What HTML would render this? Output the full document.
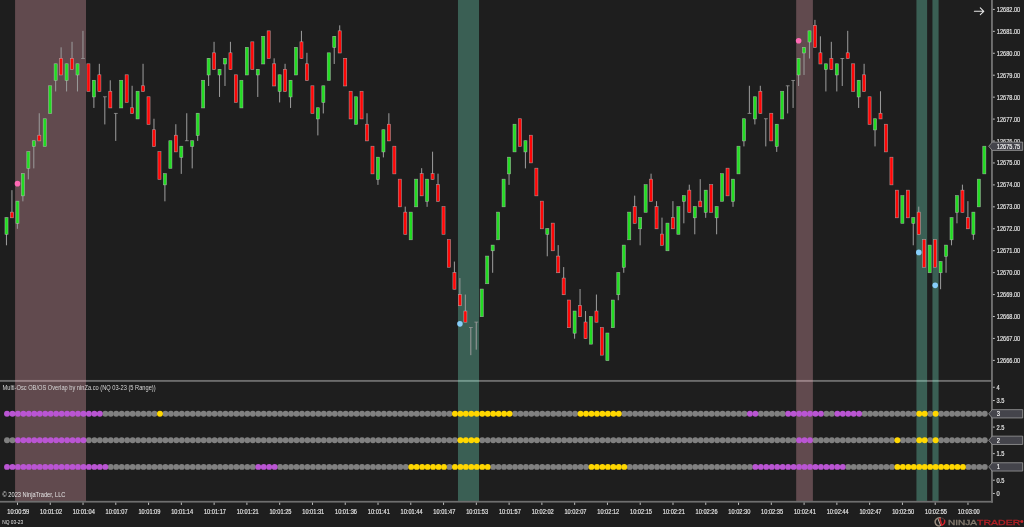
<!DOCTYPE html>
<html lang="en"><head><meta charset="utf-8"><title>NinjaTrader Chart - NQ 03-23 (5 Range)</title>
<style>html,body{margin:0;padding:0;background:#1e1e1e;overflow:hidden}svg{display:block;font-family:"Liberation Sans",sans-serif}</style></head>
<body>
<svg width="1024" height="527" viewBox="0 0 1024 527">
<defs><filter id="soft" x="0" y="0" width="100%" height="100%" filterUnits="userSpaceOnUse"><feGaussianBlur stdDeviation="0.35"/></filter></defs>
<rect width="1024" height="527" fill="#1e1e1e"/>
<rect x="0" y="379.95" width="992" height="1.9" fill="#6c6c6c"/>
<g id="bands">
<rect x="15.08" y="0" width="70.92" height="501" fill="#ffb4c0" fill-opacity="0.3"/>
<rect x="457.97" y="0" width="21.07" height="501" fill="#7ffad4" fill-opacity="0.3"/>
<rect x="796.18" y="0" width="16.70" height="501" fill="#ffb4c0" fill-opacity="0.3"/>
<rect x="916.45" y="0" width="10.66" height="501" fill="#7ffad4" fill-opacity="0.3"/>
<rect x="932.44" y="0" width="6.15" height="501" fill="#7ffad4" fill-opacity="0.3"/>
</g>
<rect x="991" y="0" width="1.9" height="502.6" fill="#6f6f6f"/>
<rect x="0" y="500.85" width="992.9" height="1.75" fill="#6f6f6f"/>
<g id="paxis" fill="#e4e4e4" stroke="#e4e4e4" stroke-width="0.18" font-size="7">
<rect x="992.9" y="8.90" width="1.9" height="1" fill="#c0c0c0" stroke="none"/>
<text x="996.8" y="11.90" textLength="23.4" lengthAdjust="spacingAndGlyphs">12682.00</text>
<rect x="992.9" y="30.84" width="1.9" height="1" fill="#c0c0c0" stroke="none"/>
<text x="996.8" y="33.84" textLength="23.4" lengthAdjust="spacingAndGlyphs">12681.00</text>
<rect x="992.9" y="52.77" width="1.9" height="1" fill="#c0c0c0" stroke="none"/>
<text x="996.8" y="55.77" textLength="23.4" lengthAdjust="spacingAndGlyphs">12680.00</text>
<rect x="992.9" y="74.71" width="1.9" height="1" fill="#c0c0c0" stroke="none"/>
<text x="996.8" y="77.71" textLength="23.4" lengthAdjust="spacingAndGlyphs">12679.00</text>
<rect x="992.9" y="96.64" width="1.9" height="1" fill="#c0c0c0" stroke="none"/>
<text x="996.8" y="99.64" textLength="23.4" lengthAdjust="spacingAndGlyphs">12678.00</text>
<rect x="992.9" y="118.58" width="1.9" height="1" fill="#c0c0c0" stroke="none"/>
<text x="996.8" y="121.58" textLength="23.4" lengthAdjust="spacingAndGlyphs">12677.00</text>
<rect x="992.9" y="140.52" width="1.9" height="1" fill="#c0c0c0" stroke="none"/>
<text x="996.8" y="143.52" textLength="23.4" lengthAdjust="spacingAndGlyphs">12676.00</text>
<rect x="992.9" y="162.45" width="1.9" height="1" fill="#c0c0c0" stroke="none"/>
<text x="996.8" y="165.45" textLength="23.4" lengthAdjust="spacingAndGlyphs">12675.00</text>
<rect x="992.9" y="184.39" width="1.9" height="1" fill="#c0c0c0" stroke="none"/>
<text x="996.8" y="187.39" textLength="23.4" lengthAdjust="spacingAndGlyphs">12674.00</text>
<rect x="992.9" y="206.32" width="1.9" height="1" fill="#c0c0c0" stroke="none"/>
<text x="996.8" y="209.32" textLength="23.4" lengthAdjust="spacingAndGlyphs">12673.00</text>
<rect x="992.9" y="228.26" width="1.9" height="1" fill="#c0c0c0" stroke="none"/>
<text x="996.8" y="231.26" textLength="23.4" lengthAdjust="spacingAndGlyphs">12672.00</text>
<rect x="992.9" y="250.20" width="1.9" height="1" fill="#c0c0c0" stroke="none"/>
<text x="996.8" y="253.20" textLength="23.4" lengthAdjust="spacingAndGlyphs">12671.00</text>
<rect x="992.9" y="272.13" width="1.9" height="1" fill="#c0c0c0" stroke="none"/>
<text x="996.8" y="275.13" textLength="23.4" lengthAdjust="spacingAndGlyphs">12670.00</text>
<rect x="992.9" y="294.07" width="1.9" height="1" fill="#c0c0c0" stroke="none"/>
<text x="996.8" y="297.07" textLength="23.4" lengthAdjust="spacingAndGlyphs">12669.00</text>
<rect x="992.9" y="316.00" width="1.9" height="1" fill="#c0c0c0" stroke="none"/>
<text x="996.8" y="319.00" textLength="23.4" lengthAdjust="spacingAndGlyphs">12668.00</text>
<rect x="992.9" y="337.94" width="1.9" height="1" fill="#c0c0c0" stroke="none"/>
<text x="996.8" y="340.94" textLength="23.4" lengthAdjust="spacingAndGlyphs">12667.00</text>
<rect x="992.9" y="359.88" width="1.9" height="1" fill="#c0c0c0" stroke="none"/>
<text x="996.8" y="362.88" textLength="23.4" lengthAdjust="spacingAndGlyphs">12666.00</text>
</g>
<g id="iaxis" fill="#e4e4e4" stroke="#e4e4e4" stroke-width="0.18" font-size="7">
<rect x="992.9" y="386.75" width="1.9" height="1" fill="#c0c0c0" stroke="none"/>
<text x="996.6" y="389.70" font-size="7" textLength="3.2" lengthAdjust="spacingAndGlyphs">4</text>
<rect x="992.9" y="400.03" width="1.9" height="1" fill="#c0c0c0" stroke="none"/>
<text x="996.6" y="402.98" font-size="7" textLength="7.9" lengthAdjust="spacingAndGlyphs">3.5</text>
<rect x="992.9" y="413.31" width="1.9" height="1" fill="#c0c0c0" stroke="none"/>
<rect x="992.9" y="426.59" width="1.9" height="1" fill="#c0c0c0" stroke="none"/>
<text x="996.6" y="429.54" font-size="7" textLength="7.9" lengthAdjust="spacingAndGlyphs">2.5</text>
<rect x="992.9" y="439.87" width="1.9" height="1" fill="#c0c0c0" stroke="none"/>
<rect x="992.9" y="453.15" width="1.9" height="1" fill="#c0c0c0" stroke="none"/>
<text x="996.6" y="456.10" font-size="7" textLength="7.9" lengthAdjust="spacingAndGlyphs">1.5</text>
<rect x="992.9" y="466.43" width="1.9" height="1" fill="#c0c0c0" stroke="none"/>
<rect x="992.9" y="479.71" width="1.9" height="1" fill="#c0c0c0" stroke="none"/>
<text x="996.6" y="482.66" font-size="7" textLength="7.9" lengthAdjust="spacingAndGlyphs">0.5</text>
<rect x="992.9" y="492.99" width="1.9" height="1" fill="#c0c0c0" stroke="none"/>
<text x="996.6" y="495.94" font-size="7" textLength="3.2" lengthAdjust="spacingAndGlyphs">0</text>
</g>
<g id="candles">
<rect x="5.95" y="217.62" width="1.05" height="27.67" fill="#989898"/>
<rect x="4.95" y="217.62" width="3.1" height="16.68" fill="#22dc22" stroke="#c4c4c4" stroke-opacity="0.7" stroke-width="0.6"/>
<rect x="11.41" y="190.15" width="1.05" height="27.67" fill="#989898"/>
<rect x="10.41" y="212.13" width="3.1" height="5.69" fill="#ff0505" stroke="#c4c4c4" stroke-opacity="0.7" stroke-width="0.6"/>
<rect x="16.88" y="201.14" width="1.05" height="27.67" fill="#989898"/>
<rect x="15.88" y="201.14" width="3.1" height="22.18" fill="#22dc22" stroke="#c4c4c4" stroke-opacity="0.7" stroke-width="0.6"/>
<rect x="22.34" y="173.67" width="1.05" height="27.67" fill="#989898"/>
<rect x="21.34" y="173.67" width="3.1" height="22.18" fill="#22dc22" stroke="#c4c4c4" stroke-opacity="0.7" stroke-width="0.6"/>
<rect x="27.80" y="151.69" width="1.05" height="27.67" fill="#989898"/>
<rect x="26.80" y="151.69" width="3.1" height="16.68" fill="#22dc22" stroke="#c4c4c4" stroke-opacity="0.7" stroke-width="0.6"/>
<rect x="33.26" y="140.71" width="1.05" height="27.67" fill="#989898"/>
<rect x="32.26" y="140.71" width="3.1" height="5.69" fill="#22dc22" stroke="#c4c4c4" stroke-opacity="0.7" stroke-width="0.6"/>
<rect x="38.73" y="113.24" width="1.05" height="27.67" fill="#989898"/>
<rect x="37.73" y="135.21" width="3.1" height="5.69" fill="#ff0505" stroke="#c4c4c4" stroke-opacity="0.7" stroke-width="0.6"/>
<rect x="43.19" y="118.73" width="3.1" height="27.67" fill="#22dc22" stroke="#c4c4c4" stroke-opacity="0.7" stroke-width="0.6"/>
<rect x="48.65" y="85.77" width="3.1" height="27.67" fill="#22dc22" stroke="#c4c4c4" stroke-opacity="0.7" stroke-width="0.6"/>
<rect x="55.11" y="63.79" width="1.05" height="27.67" fill="#989898"/>
<rect x="54.11" y="63.79" width="3.1" height="16.68" fill="#22dc22" stroke="#c4c4c4" stroke-opacity="0.7" stroke-width="0.6"/>
<rect x="60.58" y="47.31" width="1.05" height="27.67" fill="#989898"/>
<rect x="59.58" y="58.30" width="3.1" height="16.68" fill="#ff0505" stroke="#c4c4c4" stroke-opacity="0.7" stroke-width="0.6"/>
<rect x="66.04" y="63.79" width="1.05" height="27.67" fill="#989898"/>
<rect x="65.04" y="63.79" width="3.1" height="16.68" fill="#22dc22" stroke="#c4c4c4" stroke-opacity="0.7" stroke-width="0.6"/>
<rect x="71.50" y="41.81" width="1.05" height="27.67" fill="#989898"/>
<rect x="70.50" y="58.30" width="3.1" height="11.19" fill="#ff0505" stroke="#c4c4c4" stroke-opacity="0.7" stroke-width="0.6"/>
<rect x="76.96" y="63.79" width="1.05" height="27.67" fill="#989898"/>
<rect x="75.96" y="63.79" width="3.1" height="11.19" fill="#22dc22" stroke="#c4c4c4" stroke-opacity="0.7" stroke-width="0.6"/>
<rect x="82.43" y="30.83" width="1.05" height="27.67" fill="#989898"/>
<rect x="81.13" y="58.00" width="3.8" height="0.75" fill="#989898"/>
<rect x="86.89" y="63.79" width="3.1" height="27.67" fill="#ff0505" stroke="#c4c4c4" stroke-opacity="0.7" stroke-width="0.6"/>
<rect x="93.35" y="80.27" width="1.05" height="27.67" fill="#989898"/>
<rect x="92.35" y="80.27" width="3.1" height="16.68" fill="#22dc22" stroke="#c4c4c4" stroke-opacity="0.7" stroke-width="0.6"/>
<rect x="98.81" y="63.79" width="1.05" height="27.67" fill="#989898"/>
<rect x="97.81" y="74.78" width="3.1" height="16.68" fill="#ff0505" stroke="#c4c4c4" stroke-opacity="0.7" stroke-width="0.6"/>
<rect x="104.28" y="96.75" width="1.05" height="27.67" fill="#989898"/>
<rect x="102.98" y="96.45" width="3.8" height="0.75" fill="#989898"/>
<rect x="109.74" y="80.27" width="1.05" height="27.67" fill="#989898"/>
<rect x="108.74" y="91.26" width="3.1" height="16.68" fill="#ff0505" stroke="#c4c4c4" stroke-opacity="0.7" stroke-width="0.6"/>
<rect x="115.20" y="113.24" width="1.05" height="27.67" fill="#989898"/>
<rect x="113.90" y="112.94" width="3.8" height="0.75" fill="#989898"/>
<rect x="119.66" y="80.27" width="3.1" height="27.67" fill="#22dc22" stroke="#c4c4c4" stroke-opacity="0.7" stroke-width="0.6"/>
<rect x="125.13" y="74.78" width="3.1" height="27.67" fill="#ff0505" stroke="#c4c4c4" stroke-opacity="0.7" stroke-width="0.6"/>
<rect x="131.59" y="85.77" width="1.05" height="27.67" fill="#989898"/>
<rect x="130.59" y="107.74" width="3.1" height="5.69" fill="#ff0505" stroke="#c4c4c4" stroke-opacity="0.7" stroke-width="0.6"/>
<rect x="136.05" y="91.26" width="3.1" height="27.67" fill="#22dc22" stroke="#c4c4c4" stroke-opacity="0.7" stroke-width="0.6"/>
<rect x="142.52" y="63.79" width="1.05" height="27.67" fill="#989898"/>
<rect x="141.52" y="85.77" width="3.1" height="5.69" fill="#ff0505" stroke="#c4c4c4" stroke-opacity="0.7" stroke-width="0.6"/>
<rect x="146.98" y="96.75" width="3.1" height="27.67" fill="#ff0505" stroke="#c4c4c4" stroke-opacity="0.7" stroke-width="0.6"/>
<rect x="153.44" y="118.73" width="1.05" height="27.67" fill="#989898"/>
<rect x="152.44" y="129.72" width="3.1" height="16.68" fill="#ff0505" stroke="#c4c4c4" stroke-opacity="0.7" stroke-width="0.6"/>
<rect x="157.90" y="151.69" width="3.1" height="27.67" fill="#ff0505" stroke="#c4c4c4" stroke-opacity="0.7" stroke-width="0.6"/>
<rect x="164.37" y="173.67" width="1.05" height="27.67" fill="#989898"/>
<rect x="163.37" y="173.67" width="3.1" height="11.19" fill="#22dc22" stroke="#c4c4c4" stroke-opacity="0.7" stroke-width="0.6"/>
<rect x="168.83" y="140.71" width="3.1" height="27.67" fill="#22dc22" stroke="#c4c4c4" stroke-opacity="0.7" stroke-width="0.6"/>
<rect x="175.29" y="124.22" width="1.05" height="27.67" fill="#989898"/>
<rect x="174.29" y="135.21" width="3.1" height="16.68" fill="#ff0505" stroke="#c4c4c4" stroke-opacity="0.7" stroke-width="0.6"/>
<rect x="180.75" y="146.20" width="1.05" height="27.67" fill="#989898"/>
<rect x="179.75" y="146.20" width="3.1" height="11.19" fill="#22dc22" stroke="#c4c4c4" stroke-opacity="0.7" stroke-width="0.6"/>
<rect x="186.22" y="113.24" width="1.05" height="27.67" fill="#989898"/>
<rect x="184.92" y="140.41" width="3.8" height="0.75" fill="#989898"/>
<rect x="191.68" y="140.71" width="1.05" height="27.67" fill="#989898"/>
<rect x="190.68" y="140.71" width="3.1" height="5.69" fill="#22dc22" stroke="#c4c4c4" stroke-opacity="0.7" stroke-width="0.6"/>
<rect x="197.14" y="113.24" width="1.05" height="27.67" fill="#989898"/>
<rect x="196.14" y="113.24" width="3.1" height="22.18" fill="#22dc22" stroke="#c4c4c4" stroke-opacity="0.7" stroke-width="0.6"/>
<rect x="201.60" y="80.27" width="3.1" height="27.67" fill="#22dc22" stroke="#c4c4c4" stroke-opacity="0.7" stroke-width="0.6"/>
<rect x="208.07" y="58.30" width="1.05" height="27.67" fill="#989898"/>
<rect x="207.07" y="58.30" width="3.1" height="16.68" fill="#22dc22" stroke="#c4c4c4" stroke-opacity="0.7" stroke-width="0.6"/>
<rect x="213.53" y="41.81" width="1.05" height="27.67" fill="#989898"/>
<rect x="212.53" y="52.80" width="3.1" height="16.68" fill="#ff0505" stroke="#c4c4c4" stroke-opacity="0.7" stroke-width="0.6"/>
<rect x="218.99" y="69.28" width="1.05" height="27.67" fill="#989898"/>
<rect x="217.99" y="69.28" width="3.1" height="5.69" fill="#22dc22" stroke="#c4c4c4" stroke-opacity="0.7" stroke-width="0.6"/>
<rect x="224.45" y="58.30" width="1.05" height="27.67" fill="#989898"/>
<rect x="223.45" y="58.30" width="3.1" height="5.69" fill="#22dc22" stroke="#c4c4c4" stroke-opacity="0.7" stroke-width="0.6"/>
<rect x="229.92" y="41.81" width="1.05" height="27.67" fill="#989898"/>
<rect x="228.92" y="52.80" width="3.1" height="16.68" fill="#ff0505" stroke="#c4c4c4" stroke-opacity="0.7" stroke-width="0.6"/>
<rect x="234.38" y="74.78" width="3.1" height="27.67" fill="#ff0505" stroke="#c4c4c4" stroke-opacity="0.7" stroke-width="0.6"/>
<rect x="239.84" y="80.27" width="3.1" height="27.67" fill="#22dc22" stroke="#c4c4c4" stroke-opacity="0.7" stroke-width="0.6"/>
<rect x="245.30" y="47.31" width="3.1" height="27.67" fill="#22dc22" stroke="#c4c4c4" stroke-opacity="0.7" stroke-width="0.6"/>
<rect x="250.77" y="41.81" width="3.1" height="27.67" fill="#ff0505" stroke="#c4c4c4" stroke-opacity="0.7" stroke-width="0.6"/>
<rect x="257.23" y="69.28" width="1.05" height="27.67" fill="#989898"/>
<rect x="256.23" y="69.28" width="3.1" height="5.69" fill="#22dc22" stroke="#c4c4c4" stroke-opacity="0.7" stroke-width="0.6"/>
<rect x="261.69" y="36.32" width="3.1" height="27.67" fill="#22dc22" stroke="#c4c4c4" stroke-opacity="0.7" stroke-width="0.6"/>
<rect x="267.15" y="30.83" width="3.1" height="27.67" fill="#ff0505" stroke="#c4c4c4" stroke-opacity="0.7" stroke-width="0.6"/>
<rect x="273.62" y="58.30" width="1.05" height="27.67" fill="#989898"/>
<rect x="272.62" y="63.79" width="3.1" height="22.18" fill="#ff0505" stroke="#c4c4c4" stroke-opacity="0.7" stroke-width="0.6"/>
<rect x="279.08" y="74.78" width="1.05" height="27.67" fill="#989898"/>
<rect x="278.08" y="74.78" width="3.1" height="16.68" fill="#22dc22" stroke="#c4c4c4" stroke-opacity="0.7" stroke-width="0.6"/>
<rect x="284.54" y="63.79" width="1.05" height="27.67" fill="#989898"/>
<rect x="283.54" y="69.28" width="3.1" height="22.18" fill="#ff0505" stroke="#c4c4c4" stroke-opacity="0.7" stroke-width="0.6"/>
<rect x="290.01" y="80.27" width="1.05" height="27.67" fill="#989898"/>
<rect x="289.01" y="80.27" width="3.1" height="16.68" fill="#22dc22" stroke="#c4c4c4" stroke-opacity="0.7" stroke-width="0.6"/>
<rect x="294.47" y="47.31" width="3.1" height="27.67" fill="#22dc22" stroke="#c4c4c4" stroke-opacity="0.7" stroke-width="0.6"/>
<rect x="300.93" y="30.83" width="1.05" height="27.67" fill="#989898"/>
<rect x="299.93" y="41.81" width="3.1" height="16.68" fill="#ff0505" stroke="#c4c4c4" stroke-opacity="0.7" stroke-width="0.6"/>
<rect x="306.39" y="52.80" width="1.05" height="27.67" fill="#989898"/>
<rect x="305.39" y="63.79" width="3.1" height="16.68" fill="#ff0505" stroke="#c4c4c4" stroke-opacity="0.7" stroke-width="0.6"/>
<rect x="310.86" y="85.77" width="3.1" height="27.67" fill="#ff0505" stroke="#c4c4c4" stroke-opacity="0.7" stroke-width="0.6"/>
<rect x="317.32" y="107.74" width="1.05" height="27.67" fill="#989898"/>
<rect x="316.32" y="107.74" width="3.1" height="11.19" fill="#22dc22" stroke="#c4c4c4" stroke-opacity="0.7" stroke-width="0.6"/>
<rect x="322.78" y="85.77" width="1.05" height="27.67" fill="#989898"/>
<rect x="321.78" y="85.77" width="3.1" height="16.68" fill="#22dc22" stroke="#c4c4c4" stroke-opacity="0.7" stroke-width="0.6"/>
<rect x="327.24" y="52.80" width="3.1" height="27.67" fill="#22dc22" stroke="#c4c4c4" stroke-opacity="0.7" stroke-width="0.6"/>
<rect x="333.71" y="36.32" width="1.05" height="27.67" fill="#989898"/>
<rect x="332.71" y="36.32" width="3.1" height="11.19" fill="#22dc22" stroke="#c4c4c4" stroke-opacity="0.7" stroke-width="0.6"/>
<rect x="339.17" y="25.33" width="1.05" height="27.67" fill="#989898"/>
<rect x="338.17" y="30.83" width="3.1" height="22.18" fill="#ff0505" stroke="#c4c4c4" stroke-opacity="0.7" stroke-width="0.6"/>
<rect x="343.63" y="58.30" width="3.1" height="27.67" fill="#ff0505" stroke="#c4c4c4" stroke-opacity="0.7" stroke-width="0.6"/>
<rect x="349.09" y="91.26" width="3.1" height="27.67" fill="#ff0505" stroke="#c4c4c4" stroke-opacity="0.7" stroke-width="0.6"/>
<rect x="354.56" y="96.75" width="3.1" height="27.67" fill="#22dc22" stroke="#c4c4c4" stroke-opacity="0.7" stroke-width="0.6"/>
<rect x="360.02" y="91.26" width="3.1" height="27.67" fill="#ff0505" stroke="#c4c4c4" stroke-opacity="0.7" stroke-width="0.6"/>
<rect x="366.48" y="113.24" width="1.05" height="27.67" fill="#989898"/>
<rect x="365.48" y="124.22" width="3.1" height="16.68" fill="#ff0505" stroke="#c4c4c4" stroke-opacity="0.7" stroke-width="0.6"/>
<rect x="370.94" y="146.20" width="3.1" height="27.67" fill="#ff0505" stroke="#c4c4c4" stroke-opacity="0.7" stroke-width="0.6"/>
<rect x="377.41" y="157.19" width="1.05" height="27.67" fill="#989898"/>
<rect x="376.41" y="157.19" width="3.1" height="22.18" fill="#22dc22" stroke="#c4c4c4" stroke-opacity="0.7" stroke-width="0.6"/>
<rect x="382.87" y="129.72" width="1.05" height="27.67" fill="#989898"/>
<rect x="381.87" y="129.72" width="3.1" height="22.18" fill="#22dc22" stroke="#c4c4c4" stroke-opacity="0.7" stroke-width="0.6"/>
<rect x="388.33" y="113.24" width="1.05" height="27.67" fill="#989898"/>
<rect x="387.33" y="124.22" width="3.1" height="16.68" fill="#ff0505" stroke="#c4c4c4" stroke-opacity="0.7" stroke-width="0.6"/>
<rect x="392.79" y="146.20" width="3.1" height="27.67" fill="#ff0505" stroke="#c4c4c4" stroke-opacity="0.7" stroke-width="0.6"/>
<rect x="398.26" y="179.16" width="3.1" height="27.67" fill="#ff0505" stroke="#c4c4c4" stroke-opacity="0.7" stroke-width="0.6"/>
<rect x="404.72" y="206.63" width="1.05" height="27.67" fill="#989898"/>
<rect x="403.72" y="212.13" width="3.1" height="22.18" fill="#ff0505" stroke="#c4c4c4" stroke-opacity="0.7" stroke-width="0.6"/>
<rect x="409.18" y="212.13" width="3.1" height="27.67" fill="#22dc22" stroke="#c4c4c4" stroke-opacity="0.7" stroke-width="0.6"/>
<rect x="414.64" y="179.16" width="3.1" height="27.67" fill="#22dc22" stroke="#c4c4c4" stroke-opacity="0.7" stroke-width="0.6"/>
<rect x="421.11" y="168.18" width="1.05" height="27.67" fill="#989898"/>
<rect x="420.11" y="173.67" width="3.1" height="22.18" fill="#ff0505" stroke="#c4c4c4" stroke-opacity="0.7" stroke-width="0.6"/>
<rect x="426.57" y="179.16" width="1.05" height="27.67" fill="#989898"/>
<rect x="425.57" y="179.16" width="3.1" height="22.18" fill="#22dc22" stroke="#c4c4c4" stroke-opacity="0.7" stroke-width="0.6"/>
<rect x="432.03" y="151.69" width="1.05" height="27.67" fill="#989898"/>
<rect x="431.03" y="173.67" width="3.1" height="5.69" fill="#ff0505" stroke="#c4c4c4" stroke-opacity="0.7" stroke-width="0.6"/>
<rect x="437.50" y="173.67" width="1.05" height="27.67" fill="#989898"/>
<rect x="436.50" y="184.66" width="3.1" height="16.68" fill="#ff0505" stroke="#c4c4c4" stroke-opacity="0.7" stroke-width="0.6"/>
<rect x="441.96" y="206.63" width="3.1" height="27.67" fill="#ff0505" stroke="#c4c4c4" stroke-opacity="0.7" stroke-width="0.6"/>
<rect x="447.42" y="239.60" width="3.1" height="27.67" fill="#ff0505" stroke="#c4c4c4" stroke-opacity="0.7" stroke-width="0.6"/>
<rect x="453.88" y="261.57" width="1.05" height="27.67" fill="#989898"/>
<rect x="452.88" y="272.56" width="3.1" height="16.68" fill="#ff0505" stroke="#c4c4c4" stroke-opacity="0.7" stroke-width="0.6"/>
<rect x="459.35" y="278.06" width="1.05" height="27.67" fill="#989898"/>
<rect x="458.35" y="294.54" width="3.1" height="11.19" fill="#ff0505" stroke="#c4c4c4" stroke-opacity="0.7" stroke-width="0.6"/>
<rect x="464.81" y="294.54" width="1.05" height="27.67" fill="#989898"/>
<rect x="463.81" y="311.02" width="3.1" height="11.19" fill="#ff0505" stroke="#c4c4c4" stroke-opacity="0.7" stroke-width="0.6"/>
<rect x="470.27" y="327.50" width="1.05" height="27.67" fill="#989898"/>
<rect x="468.97" y="327.20" width="3.8" height="0.75" fill="#989898"/>
<rect x="475.73" y="322.01" width="1.05" height="27.67" fill="#989898"/>
<rect x="474.43" y="321.71" width="3.8" height="0.75" fill="#989898"/>
<rect x="480.20" y="289.04" width="3.1" height="27.67" fill="#22dc22" stroke="#c4c4c4" stroke-opacity="0.7" stroke-width="0.6"/>
<rect x="485.66" y="256.08" width="3.1" height="27.67" fill="#22dc22" stroke="#c4c4c4" stroke-opacity="0.7" stroke-width="0.6"/>
<rect x="492.12" y="245.09" width="1.05" height="27.67" fill="#989898"/>
<rect x="491.12" y="245.09" width="3.1" height="5.69" fill="#22dc22" stroke="#c4c4c4" stroke-opacity="0.7" stroke-width="0.6"/>
<rect x="496.58" y="212.13" width="3.1" height="27.67" fill="#22dc22" stroke="#c4c4c4" stroke-opacity="0.7" stroke-width="0.6"/>
<rect x="502.05" y="179.16" width="3.1" height="27.67" fill="#22dc22" stroke="#c4c4c4" stroke-opacity="0.7" stroke-width="0.6"/>
<rect x="508.51" y="157.19" width="1.05" height="27.67" fill="#989898"/>
<rect x="507.51" y="157.19" width="3.1" height="16.68" fill="#22dc22" stroke="#c4c4c4" stroke-opacity="0.7" stroke-width="0.6"/>
<rect x="512.97" y="124.22" width="3.1" height="27.67" fill="#22dc22" stroke="#c4c4c4" stroke-opacity="0.7" stroke-width="0.6"/>
<rect x="518.43" y="118.73" width="3.1" height="27.67" fill="#ff0505" stroke="#c4c4c4" stroke-opacity="0.7" stroke-width="0.6"/>
<rect x="524.90" y="140.71" width="1.05" height="27.67" fill="#989898"/>
<rect x="523.90" y="140.71" width="3.1" height="11.19" fill="#22dc22" stroke="#c4c4c4" stroke-opacity="0.7" stroke-width="0.6"/>
<rect x="529.36" y="135.21" width="3.1" height="27.67" fill="#ff0505" stroke="#c4c4c4" stroke-opacity="0.7" stroke-width="0.6"/>
<rect x="534.82" y="168.18" width="3.1" height="27.67" fill="#ff0505" stroke="#c4c4c4" stroke-opacity="0.7" stroke-width="0.6"/>
<rect x="540.28" y="201.14" width="3.1" height="27.67" fill="#ff0505" stroke="#c4c4c4" stroke-opacity="0.7" stroke-width="0.6"/>
<rect x="546.75" y="228.61" width="1.05" height="27.67" fill="#989898"/>
<rect x="545.75" y="228.61" width="3.1" height="5.69" fill="#22dc22" stroke="#c4c4c4" stroke-opacity="0.7" stroke-width="0.6"/>
<rect x="551.21" y="223.12" width="3.1" height="27.67" fill="#ff0505" stroke="#c4c4c4" stroke-opacity="0.7" stroke-width="0.6"/>
<rect x="557.67" y="245.09" width="1.05" height="27.67" fill="#989898"/>
<rect x="556.67" y="256.08" width="3.1" height="16.68" fill="#ff0505" stroke="#c4c4c4" stroke-opacity="0.7" stroke-width="0.6"/>
<rect x="563.14" y="267.07" width="1.05" height="27.67" fill="#989898"/>
<rect x="562.14" y="278.06" width="3.1" height="16.68" fill="#ff0505" stroke="#c4c4c4" stroke-opacity="0.7" stroke-width="0.6"/>
<rect x="567.60" y="300.03" width="3.1" height="27.67" fill="#ff0505" stroke="#c4c4c4" stroke-opacity="0.7" stroke-width="0.6"/>
<rect x="574.06" y="311.02" width="1.05" height="27.67" fill="#989898"/>
<rect x="573.06" y="311.02" width="3.1" height="22.18" fill="#22dc22" stroke="#c4c4c4" stroke-opacity="0.7" stroke-width="0.6"/>
<rect x="579.52" y="289.04" width="1.05" height="27.67" fill="#989898"/>
<rect x="578.52" y="305.53" width="3.1" height="11.19" fill="#ff0505" stroke="#c4c4c4" stroke-opacity="0.7" stroke-width="0.6"/>
<rect x="584.99" y="311.02" width="1.05" height="27.67" fill="#989898"/>
<rect x="583.99" y="322.01" width="3.1" height="16.68" fill="#ff0505" stroke="#c4c4c4" stroke-opacity="0.7" stroke-width="0.6"/>
<rect x="589.45" y="316.51" width="3.1" height="27.67" fill="#22dc22" stroke="#c4c4c4" stroke-opacity="0.7" stroke-width="0.6"/>
<rect x="595.91" y="294.54" width="1.05" height="27.67" fill="#989898"/>
<rect x="594.91" y="311.02" width="3.1" height="11.19" fill="#ff0505" stroke="#c4c4c4" stroke-opacity="0.7" stroke-width="0.6"/>
<rect x="600.37" y="327.50" width="3.1" height="27.67" fill="#ff0505" stroke="#c4c4c4" stroke-opacity="0.7" stroke-width="0.6"/>
<rect x="605.84" y="333.00" width="3.1" height="27.67" fill="#22dc22" stroke="#c4c4c4" stroke-opacity="0.7" stroke-width="0.6"/>
<rect x="611.30" y="300.03" width="3.1" height="27.67" fill="#22dc22" stroke="#c4c4c4" stroke-opacity="0.7" stroke-width="0.6"/>
<rect x="617.76" y="272.56" width="1.05" height="27.67" fill="#989898"/>
<rect x="616.76" y="272.56" width="3.1" height="22.18" fill="#22dc22" stroke="#c4c4c4" stroke-opacity="0.7" stroke-width="0.6"/>
<rect x="623.22" y="245.09" width="1.05" height="27.67" fill="#989898"/>
<rect x="622.22" y="245.09" width="3.1" height="22.18" fill="#22dc22" stroke="#c4c4c4" stroke-opacity="0.7" stroke-width="0.6"/>
<rect x="627.69" y="212.13" width="3.1" height="27.67" fill="#22dc22" stroke="#c4c4c4" stroke-opacity="0.7" stroke-width="0.6"/>
<rect x="634.15" y="195.65" width="1.05" height="27.67" fill="#989898"/>
<rect x="633.15" y="206.63" width="3.1" height="16.68" fill="#ff0505" stroke="#c4c4c4" stroke-opacity="0.7" stroke-width="0.6"/>
<rect x="639.61" y="217.62" width="1.05" height="27.67" fill="#989898"/>
<rect x="638.61" y="217.62" width="3.1" height="11.19" fill="#22dc22" stroke="#c4c4c4" stroke-opacity="0.7" stroke-width="0.6"/>
<rect x="644.07" y="184.66" width="3.1" height="27.67" fill="#22dc22" stroke="#c4c4c4" stroke-opacity="0.7" stroke-width="0.6"/>
<rect x="650.54" y="173.67" width="1.05" height="27.67" fill="#989898"/>
<rect x="649.54" y="179.16" width="3.1" height="22.18" fill="#ff0505" stroke="#c4c4c4" stroke-opacity="0.7" stroke-width="0.6"/>
<rect x="656.00" y="201.14" width="1.05" height="27.67" fill="#989898"/>
<rect x="655.00" y="206.63" width="3.1" height="22.18" fill="#ff0505" stroke="#c4c4c4" stroke-opacity="0.7" stroke-width="0.6"/>
<rect x="661.46" y="217.62" width="1.05" height="27.67" fill="#989898"/>
<rect x="660.46" y="234.10" width="3.1" height="11.19" fill="#ff0505" stroke="#c4c4c4" stroke-opacity="0.7" stroke-width="0.6"/>
<rect x="665.92" y="223.12" width="3.1" height="27.67" fill="#22dc22" stroke="#c4c4c4" stroke-opacity="0.7" stroke-width="0.6"/>
<rect x="672.39" y="201.14" width="1.05" height="27.67" fill="#989898"/>
<rect x="671.39" y="217.62" width="3.1" height="11.19" fill="#ff0505" stroke="#c4c4c4" stroke-opacity="0.7" stroke-width="0.6"/>
<rect x="676.85" y="206.63" width="3.1" height="27.67" fill="#22dc22" stroke="#c4c4c4" stroke-opacity="0.7" stroke-width="0.6"/>
<rect x="683.31" y="195.65" width="1.05" height="27.67" fill="#989898"/>
<rect x="682.31" y="195.65" width="3.1" height="5.69" fill="#22dc22" stroke="#c4c4c4" stroke-opacity="0.7" stroke-width="0.6"/>
<rect x="688.77" y="184.66" width="1.05" height="27.67" fill="#989898"/>
<rect x="687.77" y="190.15" width="3.1" height="22.18" fill="#ff0505" stroke="#c4c4c4" stroke-opacity="0.7" stroke-width="0.6"/>
<rect x="694.24" y="206.63" width="1.05" height="27.67" fill="#989898"/>
<rect x="693.24" y="206.63" width="3.1" height="11.19" fill="#22dc22" stroke="#c4c4c4" stroke-opacity="0.7" stroke-width="0.6"/>
<rect x="699.70" y="179.16" width="1.05" height="27.67" fill="#989898"/>
<rect x="698.70" y="201.14" width="3.1" height="5.69" fill="#ff0505" stroke="#c4c4c4" stroke-opacity="0.7" stroke-width="0.6"/>
<rect x="705.16" y="190.15" width="1.05" height="27.67" fill="#989898"/>
<rect x="704.16" y="190.15" width="3.1" height="22.18" fill="#22dc22" stroke="#c4c4c4" stroke-opacity="0.7" stroke-width="0.6"/>
<rect x="709.63" y="184.66" width="3.1" height="27.67" fill="#ff0505" stroke="#c4c4c4" stroke-opacity="0.7" stroke-width="0.6"/>
<rect x="716.09" y="206.63" width="1.05" height="27.67" fill="#989898"/>
<rect x="715.09" y="206.63" width="3.1" height="11.19" fill="#22dc22" stroke="#c4c4c4" stroke-opacity="0.7" stroke-width="0.6"/>
<rect x="720.55" y="173.67" width="3.1" height="27.67" fill="#22dc22" stroke="#c4c4c4" stroke-opacity="0.7" stroke-width="0.6"/>
<rect x="726.01" y="168.18" width="3.1" height="27.67" fill="#ff0505" stroke="#c4c4c4" stroke-opacity="0.7" stroke-width="0.6"/>
<rect x="732.48" y="179.16" width="1.05" height="27.67" fill="#989898"/>
<rect x="731.48" y="179.16" width="3.1" height="22.18" fill="#22dc22" stroke="#c4c4c4" stroke-opacity="0.7" stroke-width="0.6"/>
<rect x="736.94" y="146.20" width="3.1" height="27.67" fill="#22dc22" stroke="#c4c4c4" stroke-opacity="0.7" stroke-width="0.6"/>
<rect x="743.40" y="118.73" width="1.05" height="27.67" fill="#989898"/>
<rect x="742.40" y="118.73" width="3.1" height="22.18" fill="#22dc22" stroke="#c4c4c4" stroke-opacity="0.7" stroke-width="0.6"/>
<rect x="748.86" y="85.77" width="1.05" height="27.67" fill="#989898"/>
<rect x="747.56" y="112.94" width="3.8" height="0.75" fill="#989898"/>
<rect x="754.33" y="96.75" width="1.05" height="27.67" fill="#989898"/>
<rect x="753.33" y="96.75" width="3.1" height="22.18" fill="#22dc22" stroke="#c4c4c4" stroke-opacity="0.7" stroke-width="0.6"/>
<rect x="759.79" y="85.77" width="1.05" height="27.67" fill="#989898"/>
<rect x="758.79" y="91.26" width="3.1" height="22.18" fill="#ff0505" stroke="#c4c4c4" stroke-opacity="0.7" stroke-width="0.6"/>
<rect x="765.25" y="118.73" width="1.05" height="27.67" fill="#989898"/>
<rect x="763.95" y="118.43" width="3.8" height="0.75" fill="#989898"/>
<rect x="769.71" y="113.24" width="3.1" height="27.67" fill="#ff0505" stroke="#c4c4c4" stroke-opacity="0.7" stroke-width="0.6"/>
<rect x="776.18" y="124.22" width="1.05" height="27.67" fill="#989898"/>
<rect x="775.18" y="124.22" width="3.1" height="22.18" fill="#22dc22" stroke="#c4c4c4" stroke-opacity="0.7" stroke-width="0.6"/>
<rect x="780.64" y="91.26" width="3.1" height="27.67" fill="#22dc22" stroke="#c4c4c4" stroke-opacity="0.7" stroke-width="0.6"/>
<rect x="787.10" y="85.77" width="1.05" height="27.67" fill="#989898"/>
<rect x="785.80" y="85.47" width="3.8" height="0.75" fill="#989898"/>
<rect x="792.56" y="80.27" width="1.05" height="27.67" fill="#989898"/>
<rect x="791.26" y="79.97" width="3.8" height="0.75" fill="#989898"/>
<rect x="798.03" y="58.30" width="1.05" height="27.67" fill="#989898"/>
<rect x="797.03" y="58.30" width="3.1" height="16.68" fill="#22dc22" stroke="#c4c4c4" stroke-opacity="0.7" stroke-width="0.6"/>
<rect x="803.49" y="47.31" width="1.05" height="27.67" fill="#989898"/>
<rect x="802.49" y="47.31" width="3.1" height="5.69" fill="#22dc22" stroke="#c4c4c4" stroke-opacity="0.7" stroke-width="0.6"/>
<rect x="808.95" y="30.83" width="1.05" height="27.67" fill="#989898"/>
<rect x="807.95" y="30.83" width="3.1" height="11.19" fill="#22dc22" stroke="#c4c4c4" stroke-opacity="0.7" stroke-width="0.6"/>
<rect x="814.41" y="19.84" width="1.05" height="27.67" fill="#989898"/>
<rect x="813.41" y="25.33" width="3.1" height="22.18" fill="#ff0505" stroke="#c4c4c4" stroke-opacity="0.7" stroke-width="0.6"/>
<rect x="819.88" y="36.32" width="1.05" height="27.67" fill="#989898"/>
<rect x="818.88" y="52.80" width="3.1" height="11.19" fill="#ff0505" stroke="#c4c4c4" stroke-opacity="0.7" stroke-width="0.6"/>
<rect x="825.34" y="63.79" width="1.05" height="27.67" fill="#989898"/>
<rect x="824.34" y="63.79" width="3.1" height="5.69" fill="#22dc22" stroke="#c4c4c4" stroke-opacity="0.7" stroke-width="0.6"/>
<rect x="830.80" y="41.81" width="1.05" height="27.67" fill="#989898"/>
<rect x="829.80" y="58.30" width="3.1" height="11.19" fill="#ff0505" stroke="#c4c4c4" stroke-opacity="0.7" stroke-width="0.6"/>
<rect x="836.27" y="63.79" width="1.05" height="27.67" fill="#989898"/>
<rect x="835.27" y="63.79" width="3.1" height="11.19" fill="#22dc22" stroke="#c4c4c4" stroke-opacity="0.7" stroke-width="0.6"/>
<rect x="841.73" y="58.30" width="1.05" height="27.67" fill="#989898"/>
<rect x="840.43" y="58.00" width="3.8" height="0.75" fill="#989898"/>
<rect x="847.19" y="30.83" width="1.05" height="27.67" fill="#989898"/>
<rect x="846.19" y="52.80" width="3.1" height="5.69" fill="#ff0505" stroke="#c4c4c4" stroke-opacity="0.7" stroke-width="0.6"/>
<rect x="851.65" y="63.79" width="3.1" height="27.67" fill="#ff0505" stroke="#c4c4c4" stroke-opacity="0.7" stroke-width="0.6"/>
<rect x="858.12" y="80.27" width="1.05" height="27.67" fill="#989898"/>
<rect x="857.12" y="80.27" width="3.1" height="16.68" fill="#22dc22" stroke="#c4c4c4" stroke-opacity="0.7" stroke-width="0.6"/>
<rect x="863.58" y="63.79" width="1.05" height="27.67" fill="#989898"/>
<rect x="862.58" y="74.78" width="3.1" height="16.68" fill="#ff0505" stroke="#c4c4c4" stroke-opacity="0.7" stroke-width="0.6"/>
<rect x="868.04" y="96.75" width="3.1" height="27.67" fill="#ff0505" stroke="#c4c4c4" stroke-opacity="0.7" stroke-width="0.6"/>
<rect x="874.50" y="118.73" width="1.05" height="27.67" fill="#989898"/>
<rect x="873.50" y="118.73" width="3.1" height="11.19" fill="#22dc22" stroke="#c4c4c4" stroke-opacity="0.7" stroke-width="0.6"/>
<rect x="879.97" y="91.26" width="1.05" height="27.67" fill="#989898"/>
<rect x="878.97" y="113.24" width="3.1" height="5.69" fill="#ff0505" stroke="#c4c4c4" stroke-opacity="0.7" stroke-width="0.6"/>
<rect x="884.43" y="124.22" width="3.1" height="27.67" fill="#ff0505" stroke="#c4c4c4" stroke-opacity="0.7" stroke-width="0.6"/>
<rect x="889.89" y="157.19" width="3.1" height="27.67" fill="#ff0505" stroke="#c4c4c4" stroke-opacity="0.7" stroke-width="0.6"/>
<rect x="895.35" y="190.15" width="3.1" height="27.67" fill="#ff0505" stroke="#c4c4c4" stroke-opacity="0.7" stroke-width="0.6"/>
<rect x="900.82" y="195.65" width="3.1" height="27.67" fill="#22dc22" stroke="#c4c4c4" stroke-opacity="0.7" stroke-width="0.6"/>
<rect x="906.28" y="190.15" width="3.1" height="27.67" fill="#ff0505" stroke="#c4c4c4" stroke-opacity="0.7" stroke-width="0.6"/>
<rect x="912.74" y="217.62" width="1.05" height="27.67" fill="#989898"/>
<rect x="911.74" y="217.62" width="3.1" height="5.69" fill="#22dc22" stroke="#c4c4c4" stroke-opacity="0.7" stroke-width="0.6"/>
<rect x="918.20" y="206.63" width="1.05" height="27.67" fill="#989898"/>
<rect x="917.20" y="212.13" width="3.1" height="22.18" fill="#ff0505" stroke="#c4c4c4" stroke-opacity="0.7" stroke-width="0.6"/>
<rect x="922.67" y="239.60" width="3.1" height="27.67" fill="#ff0505" stroke="#c4c4c4" stroke-opacity="0.7" stroke-width="0.6"/>
<rect x="928.13" y="245.09" width="3.1" height="27.67" fill="#22dc22" stroke="#c4c4c4" stroke-opacity="0.7" stroke-width="0.6"/>
<rect x="933.59" y="239.60" width="3.1" height="27.67" fill="#ff0505" stroke="#c4c4c4" stroke-opacity="0.7" stroke-width="0.6"/>
<rect x="940.05" y="261.57" width="1.05" height="27.67" fill="#989898"/>
<rect x="939.05" y="261.57" width="3.1" height="11.19" fill="#22dc22" stroke="#c4c4c4" stroke-opacity="0.7" stroke-width="0.6"/>
<rect x="945.52" y="245.09" width="1.05" height="27.67" fill="#989898"/>
<rect x="944.52" y="245.09" width="3.1" height="11.19" fill="#22dc22" stroke="#c4c4c4" stroke-opacity="0.7" stroke-width="0.6"/>
<rect x="950.98" y="217.62" width="1.05" height="27.67" fill="#989898"/>
<rect x="949.98" y="217.62" width="3.1" height="22.18" fill="#22dc22" stroke="#c4c4c4" stroke-opacity="0.7" stroke-width="0.6"/>
<rect x="956.44" y="195.65" width="1.05" height="27.67" fill="#989898"/>
<rect x="955.44" y="195.65" width="3.1" height="16.68" fill="#22dc22" stroke="#c4c4c4" stroke-opacity="0.7" stroke-width="0.6"/>
<rect x="961.90" y="184.66" width="1.05" height="27.67" fill="#989898"/>
<rect x="960.90" y="190.15" width="3.1" height="22.18" fill="#ff0505" stroke="#c4c4c4" stroke-opacity="0.7" stroke-width="0.6"/>
<rect x="967.37" y="201.14" width="1.05" height="27.67" fill="#989898"/>
<rect x="966.37" y="217.62" width="3.1" height="11.19" fill="#ff0505" stroke="#c4c4c4" stroke-opacity="0.7" stroke-width="0.6"/>
<rect x="972.83" y="212.13" width="1.05" height="27.67" fill="#989898"/>
<rect x="971.83" y="212.13" width="3.1" height="22.18" fill="#22dc22" stroke="#c4c4c4" stroke-opacity="0.7" stroke-width="0.6"/>
<rect x="977.29" y="179.16" width="3.1" height="27.67" fill="#22dc22" stroke="#c4c4c4" stroke-opacity="0.7" stroke-width="0.6"/>
<rect x="982.76" y="146.20" width="3.1" height="27.67" fill="#22dc22" stroke="#c4c4c4" stroke-opacity="0.7" stroke-width="0.6"/>
</g>
<g id="signals" filter="url(#soft)">
<circle cx="17.48" cy="183.64" r="2.8" fill="#ff69b4"/>
<circle cx="459.95" cy="323.83" r="2.8" fill="#87cefa"/>
<circle cx="798.63" cy="40.80" r="2.8" fill="#ff69b4"/>
<circle cx="918.80" cy="252.40" r="2.8" fill="#87cefa"/>
<circle cx="935.19" cy="285.37" r="2.8" fill="#87cefa"/>
</g>
<g id="dots" filter="url(#soft)">
<circle cx="105.33" cy="413.8" r="2.95" fill="#808080"/>
<circle cx="110.79" cy="413.8" r="2.95" fill="#808080"/>
<circle cx="116.25" cy="413.8" r="2.95" fill="#808080"/>
<circle cx="121.71" cy="413.8" r="2.95" fill="#808080"/>
<circle cx="127.18" cy="413.8" r="2.95" fill="#808080"/>
<circle cx="132.64" cy="413.8" r="2.95" fill="#808080"/>
<circle cx="138.10" cy="413.8" r="2.95" fill="#808080"/>
<circle cx="143.56" cy="413.8" r="2.95" fill="#808080"/>
<circle cx="149.03" cy="413.8" r="2.95" fill="#808080"/>
<circle cx="154.49" cy="413.8" r="2.95" fill="#808080"/>
<circle cx="165.42" cy="413.8" r="2.95" fill="#808080"/>
<circle cx="170.88" cy="413.8" r="2.95" fill="#808080"/>
<circle cx="176.34" cy="413.8" r="2.95" fill="#808080"/>
<circle cx="181.80" cy="413.8" r="2.95" fill="#808080"/>
<circle cx="187.27" cy="413.8" r="2.95" fill="#808080"/>
<circle cx="192.73" cy="413.8" r="2.95" fill="#808080"/>
<circle cx="198.19" cy="413.8" r="2.95" fill="#808080"/>
<circle cx="203.65" cy="413.8" r="2.95" fill="#808080"/>
<circle cx="209.12" cy="413.8" r="2.95" fill="#808080"/>
<circle cx="214.58" cy="413.8" r="2.95" fill="#808080"/>
<circle cx="220.04" cy="413.8" r="2.95" fill="#808080"/>
<circle cx="225.50" cy="413.8" r="2.95" fill="#808080"/>
<circle cx="230.97" cy="413.8" r="2.95" fill="#808080"/>
<circle cx="236.43" cy="413.8" r="2.95" fill="#808080"/>
<circle cx="241.89" cy="413.8" r="2.95" fill="#808080"/>
<circle cx="247.35" cy="413.8" r="2.95" fill="#808080"/>
<circle cx="252.82" cy="413.8" r="2.95" fill="#808080"/>
<circle cx="258.28" cy="413.8" r="2.95" fill="#808080"/>
<circle cx="263.74" cy="413.8" r="2.95" fill="#808080"/>
<circle cx="269.20" cy="413.8" r="2.95" fill="#808080"/>
<circle cx="274.67" cy="413.8" r="2.95" fill="#808080"/>
<circle cx="280.13" cy="413.8" r="2.95" fill="#808080"/>
<circle cx="285.59" cy="413.8" r="2.95" fill="#808080"/>
<circle cx="291.06" cy="413.8" r="2.95" fill="#808080"/>
<circle cx="296.52" cy="413.8" r="2.95" fill="#808080"/>
<circle cx="301.98" cy="413.8" r="2.95" fill="#808080"/>
<circle cx="307.44" cy="413.8" r="2.95" fill="#808080"/>
<circle cx="312.91" cy="413.8" r="2.95" fill="#808080"/>
<circle cx="318.37" cy="413.8" r="2.95" fill="#808080"/>
<circle cx="323.83" cy="413.8" r="2.95" fill="#808080"/>
<circle cx="329.29" cy="413.8" r="2.95" fill="#808080"/>
<circle cx="334.76" cy="413.8" r="2.95" fill="#808080"/>
<circle cx="340.22" cy="413.8" r="2.95" fill="#808080"/>
<circle cx="345.68" cy="413.8" r="2.95" fill="#808080"/>
<circle cx="351.14" cy="413.8" r="2.95" fill="#808080"/>
<circle cx="356.61" cy="413.8" r="2.95" fill="#808080"/>
<circle cx="362.07" cy="413.8" r="2.95" fill="#808080"/>
<circle cx="367.53" cy="413.8" r="2.95" fill="#808080"/>
<circle cx="372.99" cy="413.8" r="2.95" fill="#808080"/>
<circle cx="378.46" cy="413.8" r="2.95" fill="#808080"/>
<circle cx="383.92" cy="413.8" r="2.95" fill="#808080"/>
<circle cx="389.38" cy="413.8" r="2.95" fill="#808080"/>
<circle cx="394.84" cy="413.8" r="2.95" fill="#808080"/>
<circle cx="400.31" cy="413.8" r="2.95" fill="#808080"/>
<circle cx="405.77" cy="413.8" r="2.95" fill="#808080"/>
<circle cx="411.23" cy="413.8" r="2.95" fill="#808080"/>
<circle cx="416.69" cy="413.8" r="2.95" fill="#808080"/>
<circle cx="422.16" cy="413.8" r="2.95" fill="#808080"/>
<circle cx="427.62" cy="413.8" r="2.95" fill="#808080"/>
<circle cx="433.08" cy="413.8" r="2.95" fill="#808080"/>
<circle cx="438.55" cy="413.8" r="2.95" fill="#808080"/>
<circle cx="444.01" cy="413.8" r="2.95" fill="#808080"/>
<circle cx="449.47" cy="413.8" r="2.95" fill="#808080"/>
<circle cx="515.02" cy="413.8" r="2.95" fill="#808080"/>
<circle cx="520.48" cy="413.8" r="2.95" fill="#808080"/>
<circle cx="525.95" cy="413.8" r="2.95" fill="#808080"/>
<circle cx="531.41" cy="413.8" r="2.95" fill="#808080"/>
<circle cx="536.87" cy="413.8" r="2.95" fill="#808080"/>
<circle cx="542.33" cy="413.8" r="2.95" fill="#808080"/>
<circle cx="547.80" cy="413.8" r="2.95" fill="#808080"/>
<circle cx="553.26" cy="413.8" r="2.95" fill="#808080"/>
<circle cx="558.72" cy="413.8" r="2.95" fill="#808080"/>
<circle cx="564.19" cy="413.8" r="2.95" fill="#808080"/>
<circle cx="569.65" cy="413.8" r="2.95" fill="#808080"/>
<circle cx="575.11" cy="413.8" r="2.95" fill="#808080"/>
<circle cx="624.27" cy="413.8" r="2.95" fill="#808080"/>
<circle cx="629.74" cy="413.8" r="2.95" fill="#808080"/>
<circle cx="635.20" cy="413.8" r="2.95" fill="#808080"/>
<circle cx="640.66" cy="413.8" r="2.95" fill="#808080"/>
<circle cx="646.12" cy="413.8" r="2.95" fill="#808080"/>
<circle cx="651.59" cy="413.8" r="2.95" fill="#808080"/>
<circle cx="657.05" cy="413.8" r="2.95" fill="#808080"/>
<circle cx="662.51" cy="413.8" r="2.95" fill="#808080"/>
<circle cx="667.97" cy="413.8" r="2.95" fill="#808080"/>
<circle cx="673.44" cy="413.8" r="2.95" fill="#808080"/>
<circle cx="678.90" cy="413.8" r="2.95" fill="#808080"/>
<circle cx="684.36" cy="413.8" r="2.95" fill="#808080"/>
<circle cx="689.83" cy="413.8" r="2.95" fill="#808080"/>
<circle cx="695.29" cy="413.8" r="2.95" fill="#808080"/>
<circle cx="700.75" cy="413.8" r="2.95" fill="#808080"/>
<circle cx="706.21" cy="413.8" r="2.95" fill="#808080"/>
<circle cx="711.68" cy="413.8" r="2.95" fill="#808080"/>
<circle cx="717.14" cy="413.8" r="2.95" fill="#808080"/>
<circle cx="722.60" cy="413.8" r="2.95" fill="#808080"/>
<circle cx="728.06" cy="413.8" r="2.95" fill="#808080"/>
<circle cx="733.53" cy="413.8" r="2.95" fill="#808080"/>
<circle cx="738.99" cy="413.8" r="2.95" fill="#808080"/>
<circle cx="744.45" cy="413.8" r="2.95" fill="#808080"/>
<circle cx="760.84" cy="413.8" r="2.95" fill="#808080"/>
<circle cx="766.30" cy="413.8" r="2.95" fill="#808080"/>
<circle cx="771.76" cy="413.8" r="2.95" fill="#808080"/>
<circle cx="777.23" cy="413.8" r="2.95" fill="#808080"/>
<circle cx="782.69" cy="413.8" r="2.95" fill="#808080"/>
<circle cx="826.39" cy="413.8" r="2.95" fill="#808080"/>
<circle cx="831.85" cy="413.8" r="2.95" fill="#808080"/>
<circle cx="864.63" cy="413.8" r="2.95" fill="#808080"/>
<circle cx="870.09" cy="413.8" r="2.95" fill="#808080"/>
<circle cx="875.55" cy="413.8" r="2.95" fill="#808080"/>
<circle cx="881.02" cy="413.8" r="2.95" fill="#808080"/>
<circle cx="886.48" cy="413.8" r="2.95" fill="#808080"/>
<circle cx="891.94" cy="413.8" r="2.95" fill="#808080"/>
<circle cx="897.40" cy="413.8" r="2.95" fill="#808080"/>
<circle cx="902.87" cy="413.8" r="2.95" fill="#808080"/>
<circle cx="908.33" cy="413.8" r="2.95" fill="#808080"/>
<circle cx="913.79" cy="413.8" r="2.95" fill="#808080"/>
<circle cx="930.18" cy="413.8" r="2.95" fill="#808080"/>
<circle cx="941.10" cy="413.8" r="2.95" fill="#808080"/>
<circle cx="946.57" cy="413.8" r="2.95" fill="#808080"/>
<circle cx="952.03" cy="413.8" r="2.95" fill="#808080"/>
<circle cx="957.49" cy="413.8" r="2.95" fill="#808080"/>
<circle cx="962.96" cy="413.8" r="2.95" fill="#808080"/>
<circle cx="968.42" cy="413.8" r="2.95" fill="#808080"/>
<circle cx="973.88" cy="413.8" r="2.95" fill="#808080"/>
<circle cx="979.34" cy="413.8" r="2.95" fill="#808080"/>
<circle cx="984.81" cy="413.8" r="2.95" fill="#808080"/>
<circle cx="7.00" cy="413.8" r="2.95" fill="#ba55d3"/>
<circle cx="12.46" cy="413.8" r="2.95" fill="#ba55d3"/>
<circle cx="17.93" cy="413.8" r="2.95" fill="#ba55d3"/>
<circle cx="23.39" cy="413.8" r="2.95" fill="#ba55d3"/>
<circle cx="28.85" cy="413.8" r="2.95" fill="#ba55d3"/>
<circle cx="34.31" cy="413.8" r="2.95" fill="#ba55d3"/>
<circle cx="39.78" cy="413.8" r="2.95" fill="#ba55d3"/>
<circle cx="45.24" cy="413.8" r="2.95" fill="#ba55d3"/>
<circle cx="50.70" cy="413.8" r="2.95" fill="#ba55d3"/>
<circle cx="56.16" cy="413.8" r="2.95" fill="#ba55d3"/>
<circle cx="61.63" cy="413.8" r="2.95" fill="#ba55d3"/>
<circle cx="67.09" cy="413.8" r="2.95" fill="#ba55d3"/>
<circle cx="72.55" cy="413.8" r="2.95" fill="#ba55d3"/>
<circle cx="78.01" cy="413.8" r="2.95" fill="#ba55d3"/>
<circle cx="83.48" cy="413.8" r="2.95" fill="#ba55d3"/>
<circle cx="88.94" cy="413.8" r="2.95" fill="#ba55d3"/>
<circle cx="94.40" cy="413.8" r="2.95" fill="#ba55d3"/>
<circle cx="99.86" cy="413.8" r="2.95" fill="#ba55d3"/>
<circle cx="159.95" cy="413.8" r="2.95" fill="#ffd700"/>
<circle cx="454.93" cy="413.8" r="2.95" fill="#ffd700"/>
<circle cx="460.40" cy="413.8" r="2.95" fill="#ffd700"/>
<circle cx="465.86" cy="413.8" r="2.95" fill="#ffd700"/>
<circle cx="471.32" cy="413.8" r="2.95" fill="#ffd700"/>
<circle cx="476.78" cy="413.8" r="2.95" fill="#ffd700"/>
<circle cx="482.25" cy="413.8" r="2.95" fill="#ffd700"/>
<circle cx="487.71" cy="413.8" r="2.95" fill="#ffd700"/>
<circle cx="493.17" cy="413.8" r="2.95" fill="#ffd700"/>
<circle cx="498.63" cy="413.8" r="2.95" fill="#ffd700"/>
<circle cx="504.10" cy="413.8" r="2.95" fill="#ffd700"/>
<circle cx="509.56" cy="413.8" r="2.95" fill="#ffd700"/>
<circle cx="580.57" cy="413.8" r="2.95" fill="#ffd700"/>
<circle cx="586.04" cy="413.8" r="2.95" fill="#ffd700"/>
<circle cx="591.50" cy="413.8" r="2.95" fill="#ffd700"/>
<circle cx="596.96" cy="413.8" r="2.95" fill="#ffd700"/>
<circle cx="602.42" cy="413.8" r="2.95" fill="#ffd700"/>
<circle cx="607.89" cy="413.8" r="2.95" fill="#ffd700"/>
<circle cx="613.35" cy="413.8" r="2.95" fill="#ffd700"/>
<circle cx="618.81" cy="413.8" r="2.95" fill="#ffd700"/>
<circle cx="749.91" cy="413.8" r="2.95" fill="#ba55d3"/>
<circle cx="755.38" cy="413.8" r="2.95" fill="#ba55d3"/>
<circle cx="788.15" cy="413.8" r="2.95" fill="#ba55d3"/>
<circle cx="793.61" cy="413.8" r="2.95" fill="#ba55d3"/>
<circle cx="799.08" cy="413.8" r="2.95" fill="#ba55d3"/>
<circle cx="804.54" cy="413.8" r="2.95" fill="#ba55d3"/>
<circle cx="810.00" cy="413.8" r="2.95" fill="#ba55d3"/>
<circle cx="815.46" cy="413.8" r="2.95" fill="#ba55d3"/>
<circle cx="820.93" cy="413.8" r="2.95" fill="#ba55d3"/>
<circle cx="837.32" cy="413.8" r="2.95" fill="#ba55d3"/>
<circle cx="842.78" cy="413.8" r="2.95" fill="#ba55d3"/>
<circle cx="848.24" cy="413.8" r="2.95" fill="#ba55d3"/>
<circle cx="853.70" cy="413.8" r="2.95" fill="#ba55d3"/>
<circle cx="859.17" cy="413.8" r="2.95" fill="#ba55d3"/>
<circle cx="919.25" cy="413.8" r="2.95" fill="#ffd700"/>
<circle cx="924.72" cy="413.8" r="2.95" fill="#ffd700"/>
<circle cx="935.64" cy="413.8" r="2.95" fill="#ffd700"/>
<circle cx="7.00" cy="440.3" r="2.95" fill="#808080"/>
<circle cx="12.46" cy="440.3" r="2.95" fill="#808080"/>
<circle cx="88.94" cy="440.3" r="2.95" fill="#808080"/>
<circle cx="94.40" cy="440.3" r="2.95" fill="#808080"/>
<circle cx="99.86" cy="440.3" r="2.95" fill="#808080"/>
<circle cx="105.33" cy="440.3" r="2.95" fill="#808080"/>
<circle cx="110.79" cy="440.3" r="2.95" fill="#808080"/>
<circle cx="116.25" cy="440.3" r="2.95" fill="#808080"/>
<circle cx="121.71" cy="440.3" r="2.95" fill="#808080"/>
<circle cx="127.18" cy="440.3" r="2.95" fill="#808080"/>
<circle cx="132.64" cy="440.3" r="2.95" fill="#808080"/>
<circle cx="138.10" cy="440.3" r="2.95" fill="#808080"/>
<circle cx="143.56" cy="440.3" r="2.95" fill="#808080"/>
<circle cx="149.03" cy="440.3" r="2.95" fill="#808080"/>
<circle cx="154.49" cy="440.3" r="2.95" fill="#808080"/>
<circle cx="159.95" cy="440.3" r="2.95" fill="#808080"/>
<circle cx="165.42" cy="440.3" r="2.95" fill="#808080"/>
<circle cx="170.88" cy="440.3" r="2.95" fill="#808080"/>
<circle cx="176.34" cy="440.3" r="2.95" fill="#808080"/>
<circle cx="181.80" cy="440.3" r="2.95" fill="#808080"/>
<circle cx="187.27" cy="440.3" r="2.95" fill="#808080"/>
<circle cx="192.73" cy="440.3" r="2.95" fill="#808080"/>
<circle cx="198.19" cy="440.3" r="2.95" fill="#808080"/>
<circle cx="203.65" cy="440.3" r="2.95" fill="#808080"/>
<circle cx="209.12" cy="440.3" r="2.95" fill="#808080"/>
<circle cx="214.58" cy="440.3" r="2.95" fill="#808080"/>
<circle cx="220.04" cy="440.3" r="2.95" fill="#808080"/>
<circle cx="225.50" cy="440.3" r="2.95" fill="#808080"/>
<circle cx="230.97" cy="440.3" r="2.95" fill="#808080"/>
<circle cx="236.43" cy="440.3" r="2.95" fill="#808080"/>
<circle cx="241.89" cy="440.3" r="2.95" fill="#808080"/>
<circle cx="247.35" cy="440.3" r="2.95" fill="#808080"/>
<circle cx="252.82" cy="440.3" r="2.95" fill="#808080"/>
<circle cx="258.28" cy="440.3" r="2.95" fill="#808080"/>
<circle cx="263.74" cy="440.3" r="2.95" fill="#808080"/>
<circle cx="269.20" cy="440.3" r="2.95" fill="#808080"/>
<circle cx="274.67" cy="440.3" r="2.95" fill="#808080"/>
<circle cx="280.13" cy="440.3" r="2.95" fill="#808080"/>
<circle cx="285.59" cy="440.3" r="2.95" fill="#808080"/>
<circle cx="291.06" cy="440.3" r="2.95" fill="#808080"/>
<circle cx="296.52" cy="440.3" r="2.95" fill="#808080"/>
<circle cx="301.98" cy="440.3" r="2.95" fill="#808080"/>
<circle cx="307.44" cy="440.3" r="2.95" fill="#808080"/>
<circle cx="312.91" cy="440.3" r="2.95" fill="#808080"/>
<circle cx="318.37" cy="440.3" r="2.95" fill="#808080"/>
<circle cx="323.83" cy="440.3" r="2.95" fill="#808080"/>
<circle cx="329.29" cy="440.3" r="2.95" fill="#808080"/>
<circle cx="334.76" cy="440.3" r="2.95" fill="#808080"/>
<circle cx="340.22" cy="440.3" r="2.95" fill="#808080"/>
<circle cx="345.68" cy="440.3" r="2.95" fill="#808080"/>
<circle cx="351.14" cy="440.3" r="2.95" fill="#808080"/>
<circle cx="356.61" cy="440.3" r="2.95" fill="#808080"/>
<circle cx="362.07" cy="440.3" r="2.95" fill="#808080"/>
<circle cx="367.53" cy="440.3" r="2.95" fill="#808080"/>
<circle cx="372.99" cy="440.3" r="2.95" fill="#808080"/>
<circle cx="378.46" cy="440.3" r="2.95" fill="#808080"/>
<circle cx="383.92" cy="440.3" r="2.95" fill="#808080"/>
<circle cx="389.38" cy="440.3" r="2.95" fill="#808080"/>
<circle cx="394.84" cy="440.3" r="2.95" fill="#808080"/>
<circle cx="400.31" cy="440.3" r="2.95" fill="#808080"/>
<circle cx="405.77" cy="440.3" r="2.95" fill="#808080"/>
<circle cx="411.23" cy="440.3" r="2.95" fill="#808080"/>
<circle cx="416.69" cy="440.3" r="2.95" fill="#808080"/>
<circle cx="422.16" cy="440.3" r="2.95" fill="#808080"/>
<circle cx="427.62" cy="440.3" r="2.95" fill="#808080"/>
<circle cx="433.08" cy="440.3" r="2.95" fill="#808080"/>
<circle cx="438.55" cy="440.3" r="2.95" fill="#808080"/>
<circle cx="444.01" cy="440.3" r="2.95" fill="#808080"/>
<circle cx="449.47" cy="440.3" r="2.95" fill="#808080"/>
<circle cx="454.93" cy="440.3" r="2.95" fill="#808080"/>
<circle cx="482.25" cy="440.3" r="2.95" fill="#808080"/>
<circle cx="487.71" cy="440.3" r="2.95" fill="#808080"/>
<circle cx="493.17" cy="440.3" r="2.95" fill="#808080"/>
<circle cx="498.63" cy="440.3" r="2.95" fill="#808080"/>
<circle cx="504.10" cy="440.3" r="2.95" fill="#808080"/>
<circle cx="509.56" cy="440.3" r="2.95" fill="#808080"/>
<circle cx="515.02" cy="440.3" r="2.95" fill="#808080"/>
<circle cx="520.48" cy="440.3" r="2.95" fill="#808080"/>
<circle cx="525.95" cy="440.3" r="2.95" fill="#808080"/>
<circle cx="531.41" cy="440.3" r="2.95" fill="#808080"/>
<circle cx="536.87" cy="440.3" r="2.95" fill="#808080"/>
<circle cx="542.33" cy="440.3" r="2.95" fill="#808080"/>
<circle cx="547.80" cy="440.3" r="2.95" fill="#808080"/>
<circle cx="553.26" cy="440.3" r="2.95" fill="#808080"/>
<circle cx="558.72" cy="440.3" r="2.95" fill="#808080"/>
<circle cx="564.19" cy="440.3" r="2.95" fill="#808080"/>
<circle cx="569.65" cy="440.3" r="2.95" fill="#808080"/>
<circle cx="575.11" cy="440.3" r="2.95" fill="#808080"/>
<circle cx="580.57" cy="440.3" r="2.95" fill="#808080"/>
<circle cx="586.04" cy="440.3" r="2.95" fill="#808080"/>
<circle cx="591.50" cy="440.3" r="2.95" fill="#808080"/>
<circle cx="596.96" cy="440.3" r="2.95" fill="#808080"/>
<circle cx="602.42" cy="440.3" r="2.95" fill="#808080"/>
<circle cx="607.89" cy="440.3" r="2.95" fill="#808080"/>
<circle cx="613.35" cy="440.3" r="2.95" fill="#808080"/>
<circle cx="618.81" cy="440.3" r="2.95" fill="#808080"/>
<circle cx="624.27" cy="440.3" r="2.95" fill="#808080"/>
<circle cx="629.74" cy="440.3" r="2.95" fill="#808080"/>
<circle cx="635.20" cy="440.3" r="2.95" fill="#808080"/>
<circle cx="640.66" cy="440.3" r="2.95" fill="#808080"/>
<circle cx="646.12" cy="440.3" r="2.95" fill="#808080"/>
<circle cx="651.59" cy="440.3" r="2.95" fill="#808080"/>
<circle cx="657.05" cy="440.3" r="2.95" fill="#808080"/>
<circle cx="662.51" cy="440.3" r="2.95" fill="#808080"/>
<circle cx="667.97" cy="440.3" r="2.95" fill="#808080"/>
<circle cx="673.44" cy="440.3" r="2.95" fill="#808080"/>
<circle cx="678.90" cy="440.3" r="2.95" fill="#808080"/>
<circle cx="684.36" cy="440.3" r="2.95" fill="#808080"/>
<circle cx="689.83" cy="440.3" r="2.95" fill="#808080"/>
<circle cx="695.29" cy="440.3" r="2.95" fill="#808080"/>
<circle cx="700.75" cy="440.3" r="2.95" fill="#808080"/>
<circle cx="706.21" cy="440.3" r="2.95" fill="#808080"/>
<circle cx="711.68" cy="440.3" r="2.95" fill="#808080"/>
<circle cx="717.14" cy="440.3" r="2.95" fill="#808080"/>
<circle cx="722.60" cy="440.3" r="2.95" fill="#808080"/>
<circle cx="728.06" cy="440.3" r="2.95" fill="#808080"/>
<circle cx="733.53" cy="440.3" r="2.95" fill="#808080"/>
<circle cx="738.99" cy="440.3" r="2.95" fill="#808080"/>
<circle cx="744.45" cy="440.3" r="2.95" fill="#808080"/>
<circle cx="749.91" cy="440.3" r="2.95" fill="#808080"/>
<circle cx="755.38" cy="440.3" r="2.95" fill="#808080"/>
<circle cx="760.84" cy="440.3" r="2.95" fill="#808080"/>
<circle cx="766.30" cy="440.3" r="2.95" fill="#808080"/>
<circle cx="771.76" cy="440.3" r="2.95" fill="#808080"/>
<circle cx="777.23" cy="440.3" r="2.95" fill="#808080"/>
<circle cx="782.69" cy="440.3" r="2.95" fill="#808080"/>
<circle cx="788.15" cy="440.3" r="2.95" fill="#808080"/>
<circle cx="793.61" cy="440.3" r="2.95" fill="#808080"/>
<circle cx="815.46" cy="440.3" r="2.95" fill="#808080"/>
<circle cx="820.93" cy="440.3" r="2.95" fill="#808080"/>
<circle cx="826.39" cy="440.3" r="2.95" fill="#808080"/>
<circle cx="831.85" cy="440.3" r="2.95" fill="#808080"/>
<circle cx="837.32" cy="440.3" r="2.95" fill="#808080"/>
<circle cx="842.78" cy="440.3" r="2.95" fill="#808080"/>
<circle cx="848.24" cy="440.3" r="2.95" fill="#808080"/>
<circle cx="853.70" cy="440.3" r="2.95" fill="#808080"/>
<circle cx="859.17" cy="440.3" r="2.95" fill="#808080"/>
<circle cx="864.63" cy="440.3" r="2.95" fill="#808080"/>
<circle cx="870.09" cy="440.3" r="2.95" fill="#808080"/>
<circle cx="875.55" cy="440.3" r="2.95" fill="#808080"/>
<circle cx="881.02" cy="440.3" r="2.95" fill="#808080"/>
<circle cx="886.48" cy="440.3" r="2.95" fill="#808080"/>
<circle cx="891.94" cy="440.3" r="2.95" fill="#808080"/>
<circle cx="902.87" cy="440.3" r="2.95" fill="#808080"/>
<circle cx="908.33" cy="440.3" r="2.95" fill="#808080"/>
<circle cx="913.79" cy="440.3" r="2.95" fill="#808080"/>
<circle cx="930.18" cy="440.3" r="2.95" fill="#808080"/>
<circle cx="941.10" cy="440.3" r="2.95" fill="#808080"/>
<circle cx="946.57" cy="440.3" r="2.95" fill="#808080"/>
<circle cx="952.03" cy="440.3" r="2.95" fill="#808080"/>
<circle cx="957.49" cy="440.3" r="2.95" fill="#808080"/>
<circle cx="962.96" cy="440.3" r="2.95" fill="#808080"/>
<circle cx="968.42" cy="440.3" r="2.95" fill="#808080"/>
<circle cx="973.88" cy="440.3" r="2.95" fill="#808080"/>
<circle cx="979.34" cy="440.3" r="2.95" fill="#808080"/>
<circle cx="984.81" cy="440.3" r="2.95" fill="#808080"/>
<circle cx="17.93" cy="440.3" r="2.95" fill="#ba55d3"/>
<circle cx="23.39" cy="440.3" r="2.95" fill="#ba55d3"/>
<circle cx="28.85" cy="440.3" r="2.95" fill="#ba55d3"/>
<circle cx="34.31" cy="440.3" r="2.95" fill="#ba55d3"/>
<circle cx="39.78" cy="440.3" r="2.95" fill="#ba55d3"/>
<circle cx="45.24" cy="440.3" r="2.95" fill="#ba55d3"/>
<circle cx="50.70" cy="440.3" r="2.95" fill="#ba55d3"/>
<circle cx="56.16" cy="440.3" r="2.95" fill="#ba55d3"/>
<circle cx="61.63" cy="440.3" r="2.95" fill="#ba55d3"/>
<circle cx="67.09" cy="440.3" r="2.95" fill="#ba55d3"/>
<circle cx="72.55" cy="440.3" r="2.95" fill="#ba55d3"/>
<circle cx="78.01" cy="440.3" r="2.95" fill="#ba55d3"/>
<circle cx="83.48" cy="440.3" r="2.95" fill="#ba55d3"/>
<circle cx="460.40" cy="440.3" r="2.95" fill="#ffd700"/>
<circle cx="465.86" cy="440.3" r="2.95" fill="#ffd700"/>
<circle cx="471.32" cy="440.3" r="2.95" fill="#ffd700"/>
<circle cx="476.78" cy="440.3" r="2.95" fill="#ffd700"/>
<circle cx="799.08" cy="440.3" r="2.95" fill="#ba55d3"/>
<circle cx="804.54" cy="440.3" r="2.95" fill="#ba55d3"/>
<circle cx="810.00" cy="440.3" r="2.95" fill="#ba55d3"/>
<circle cx="897.40" cy="440.3" r="2.95" fill="#ffd700"/>
<circle cx="919.25" cy="440.3" r="2.95" fill="#ffd700"/>
<circle cx="924.72" cy="440.3" r="2.95" fill="#ffd700"/>
<circle cx="935.64" cy="440.3" r="2.95" fill="#ffd700"/>
<circle cx="110.79" cy="466.9" r="2.95" fill="#808080"/>
<circle cx="116.25" cy="466.9" r="2.95" fill="#808080"/>
<circle cx="121.71" cy="466.9" r="2.95" fill="#808080"/>
<circle cx="127.18" cy="466.9" r="2.95" fill="#808080"/>
<circle cx="132.64" cy="466.9" r="2.95" fill="#808080"/>
<circle cx="138.10" cy="466.9" r="2.95" fill="#808080"/>
<circle cx="143.56" cy="466.9" r="2.95" fill="#808080"/>
<circle cx="149.03" cy="466.9" r="2.95" fill="#808080"/>
<circle cx="154.49" cy="466.9" r="2.95" fill="#808080"/>
<circle cx="159.95" cy="466.9" r="2.95" fill="#808080"/>
<circle cx="165.42" cy="466.9" r="2.95" fill="#808080"/>
<circle cx="170.88" cy="466.9" r="2.95" fill="#808080"/>
<circle cx="176.34" cy="466.9" r="2.95" fill="#808080"/>
<circle cx="181.80" cy="466.9" r="2.95" fill="#808080"/>
<circle cx="187.27" cy="466.9" r="2.95" fill="#808080"/>
<circle cx="192.73" cy="466.9" r="2.95" fill="#808080"/>
<circle cx="198.19" cy="466.9" r="2.95" fill="#808080"/>
<circle cx="203.65" cy="466.9" r="2.95" fill="#808080"/>
<circle cx="209.12" cy="466.9" r="2.95" fill="#808080"/>
<circle cx="214.58" cy="466.9" r="2.95" fill="#808080"/>
<circle cx="220.04" cy="466.9" r="2.95" fill="#808080"/>
<circle cx="225.50" cy="466.9" r="2.95" fill="#808080"/>
<circle cx="230.97" cy="466.9" r="2.95" fill="#808080"/>
<circle cx="236.43" cy="466.9" r="2.95" fill="#808080"/>
<circle cx="241.89" cy="466.9" r="2.95" fill="#808080"/>
<circle cx="247.35" cy="466.9" r="2.95" fill="#808080"/>
<circle cx="252.82" cy="466.9" r="2.95" fill="#808080"/>
<circle cx="280.13" cy="466.9" r="2.95" fill="#808080"/>
<circle cx="285.59" cy="466.9" r="2.95" fill="#808080"/>
<circle cx="291.06" cy="466.9" r="2.95" fill="#808080"/>
<circle cx="296.52" cy="466.9" r="2.95" fill="#808080"/>
<circle cx="301.98" cy="466.9" r="2.95" fill="#808080"/>
<circle cx="307.44" cy="466.9" r="2.95" fill="#808080"/>
<circle cx="312.91" cy="466.9" r="2.95" fill="#808080"/>
<circle cx="318.37" cy="466.9" r="2.95" fill="#808080"/>
<circle cx="323.83" cy="466.9" r="2.95" fill="#808080"/>
<circle cx="329.29" cy="466.9" r="2.95" fill="#808080"/>
<circle cx="334.76" cy="466.9" r="2.95" fill="#808080"/>
<circle cx="340.22" cy="466.9" r="2.95" fill="#808080"/>
<circle cx="345.68" cy="466.9" r="2.95" fill="#808080"/>
<circle cx="351.14" cy="466.9" r="2.95" fill="#808080"/>
<circle cx="356.61" cy="466.9" r="2.95" fill="#808080"/>
<circle cx="362.07" cy="466.9" r="2.95" fill="#808080"/>
<circle cx="367.53" cy="466.9" r="2.95" fill="#808080"/>
<circle cx="372.99" cy="466.9" r="2.95" fill="#808080"/>
<circle cx="378.46" cy="466.9" r="2.95" fill="#808080"/>
<circle cx="383.92" cy="466.9" r="2.95" fill="#808080"/>
<circle cx="389.38" cy="466.9" r="2.95" fill="#808080"/>
<circle cx="394.84" cy="466.9" r="2.95" fill="#808080"/>
<circle cx="400.31" cy="466.9" r="2.95" fill="#808080"/>
<circle cx="405.77" cy="466.9" r="2.95" fill="#808080"/>
<circle cx="449.47" cy="466.9" r="2.95" fill="#808080"/>
<circle cx="493.17" cy="466.9" r="2.95" fill="#808080"/>
<circle cx="498.63" cy="466.9" r="2.95" fill="#808080"/>
<circle cx="504.10" cy="466.9" r="2.95" fill="#808080"/>
<circle cx="509.56" cy="466.9" r="2.95" fill="#808080"/>
<circle cx="515.02" cy="466.9" r="2.95" fill="#808080"/>
<circle cx="520.48" cy="466.9" r="2.95" fill="#808080"/>
<circle cx="525.95" cy="466.9" r="2.95" fill="#808080"/>
<circle cx="531.41" cy="466.9" r="2.95" fill="#808080"/>
<circle cx="536.87" cy="466.9" r="2.95" fill="#808080"/>
<circle cx="542.33" cy="466.9" r="2.95" fill="#808080"/>
<circle cx="547.80" cy="466.9" r="2.95" fill="#808080"/>
<circle cx="553.26" cy="466.9" r="2.95" fill="#808080"/>
<circle cx="558.72" cy="466.9" r="2.95" fill="#808080"/>
<circle cx="564.19" cy="466.9" r="2.95" fill="#808080"/>
<circle cx="569.65" cy="466.9" r="2.95" fill="#808080"/>
<circle cx="575.11" cy="466.9" r="2.95" fill="#808080"/>
<circle cx="580.57" cy="466.9" r="2.95" fill="#808080"/>
<circle cx="586.04" cy="466.9" r="2.95" fill="#808080"/>
<circle cx="629.74" cy="466.9" r="2.95" fill="#808080"/>
<circle cx="635.20" cy="466.9" r="2.95" fill="#808080"/>
<circle cx="640.66" cy="466.9" r="2.95" fill="#808080"/>
<circle cx="646.12" cy="466.9" r="2.95" fill="#808080"/>
<circle cx="651.59" cy="466.9" r="2.95" fill="#808080"/>
<circle cx="657.05" cy="466.9" r="2.95" fill="#808080"/>
<circle cx="662.51" cy="466.9" r="2.95" fill="#808080"/>
<circle cx="667.97" cy="466.9" r="2.95" fill="#808080"/>
<circle cx="673.44" cy="466.9" r="2.95" fill="#808080"/>
<circle cx="678.90" cy="466.9" r="2.95" fill="#808080"/>
<circle cx="684.36" cy="466.9" r="2.95" fill="#808080"/>
<circle cx="689.83" cy="466.9" r="2.95" fill="#808080"/>
<circle cx="695.29" cy="466.9" r="2.95" fill="#808080"/>
<circle cx="700.75" cy="466.9" r="2.95" fill="#808080"/>
<circle cx="706.21" cy="466.9" r="2.95" fill="#808080"/>
<circle cx="711.68" cy="466.9" r="2.95" fill="#808080"/>
<circle cx="717.14" cy="466.9" r="2.95" fill="#808080"/>
<circle cx="722.60" cy="466.9" r="2.95" fill="#808080"/>
<circle cx="728.06" cy="466.9" r="2.95" fill="#808080"/>
<circle cx="733.53" cy="466.9" r="2.95" fill="#808080"/>
<circle cx="738.99" cy="466.9" r="2.95" fill="#808080"/>
<circle cx="744.45" cy="466.9" r="2.95" fill="#808080"/>
<circle cx="749.91" cy="466.9" r="2.95" fill="#808080"/>
<circle cx="848.24" cy="466.9" r="2.95" fill="#808080"/>
<circle cx="853.70" cy="466.9" r="2.95" fill="#808080"/>
<circle cx="859.17" cy="466.9" r="2.95" fill="#808080"/>
<circle cx="864.63" cy="466.9" r="2.95" fill="#808080"/>
<circle cx="870.09" cy="466.9" r="2.95" fill="#808080"/>
<circle cx="875.55" cy="466.9" r="2.95" fill="#808080"/>
<circle cx="881.02" cy="466.9" r="2.95" fill="#808080"/>
<circle cx="886.48" cy="466.9" r="2.95" fill="#808080"/>
<circle cx="891.94" cy="466.9" r="2.95" fill="#808080"/>
<circle cx="968.42" cy="466.9" r="2.95" fill="#808080"/>
<circle cx="973.88" cy="466.9" r="2.95" fill="#808080"/>
<circle cx="979.34" cy="466.9" r="2.95" fill="#808080"/>
<circle cx="984.81" cy="466.9" r="2.95" fill="#808080"/>
<circle cx="7.00" cy="466.9" r="2.95" fill="#ba55d3"/>
<circle cx="12.46" cy="466.9" r="2.95" fill="#ba55d3"/>
<circle cx="17.93" cy="466.9" r="2.95" fill="#ba55d3"/>
<circle cx="23.39" cy="466.9" r="2.95" fill="#ba55d3"/>
<circle cx="28.85" cy="466.9" r="2.95" fill="#ba55d3"/>
<circle cx="34.31" cy="466.9" r="2.95" fill="#ba55d3"/>
<circle cx="39.78" cy="466.9" r="2.95" fill="#ba55d3"/>
<circle cx="45.24" cy="466.9" r="2.95" fill="#ba55d3"/>
<circle cx="50.70" cy="466.9" r="2.95" fill="#ba55d3"/>
<circle cx="56.16" cy="466.9" r="2.95" fill="#ba55d3"/>
<circle cx="61.63" cy="466.9" r="2.95" fill="#ba55d3"/>
<circle cx="67.09" cy="466.9" r="2.95" fill="#ba55d3"/>
<circle cx="72.55" cy="466.9" r="2.95" fill="#ba55d3"/>
<circle cx="78.01" cy="466.9" r="2.95" fill="#ba55d3"/>
<circle cx="83.48" cy="466.9" r="2.95" fill="#ba55d3"/>
<circle cx="88.94" cy="466.9" r="2.95" fill="#ba55d3"/>
<circle cx="94.40" cy="466.9" r="2.95" fill="#ba55d3"/>
<circle cx="99.86" cy="466.9" r="2.95" fill="#ba55d3"/>
<circle cx="105.33" cy="466.9" r="2.95" fill="#ba55d3"/>
<circle cx="258.28" cy="466.9" r="2.95" fill="#ba55d3"/>
<circle cx="263.74" cy="466.9" r="2.95" fill="#ba55d3"/>
<circle cx="269.20" cy="466.9" r="2.95" fill="#ba55d3"/>
<circle cx="274.67" cy="466.9" r="2.95" fill="#ba55d3"/>
<circle cx="411.23" cy="466.9" r="2.95" fill="#ffd700"/>
<circle cx="416.69" cy="466.9" r="2.95" fill="#ffd700"/>
<circle cx="422.16" cy="466.9" r="2.95" fill="#ffd700"/>
<circle cx="427.62" cy="466.9" r="2.95" fill="#ffd700"/>
<circle cx="433.08" cy="466.9" r="2.95" fill="#ffd700"/>
<circle cx="438.55" cy="466.9" r="2.95" fill="#ffd700"/>
<circle cx="444.01" cy="466.9" r="2.95" fill="#ffd700"/>
<circle cx="454.93" cy="466.9" r="2.95" fill="#ffd700"/>
<circle cx="460.40" cy="466.9" r="2.95" fill="#ffd700"/>
<circle cx="465.86" cy="466.9" r="2.95" fill="#ffd700"/>
<circle cx="471.32" cy="466.9" r="2.95" fill="#ffd700"/>
<circle cx="476.78" cy="466.9" r="2.95" fill="#ffd700"/>
<circle cx="482.25" cy="466.9" r="2.95" fill="#ffd700"/>
<circle cx="487.71" cy="466.9" r="2.95" fill="#ffd700"/>
<circle cx="591.50" cy="466.9" r="2.95" fill="#ffd700"/>
<circle cx="596.96" cy="466.9" r="2.95" fill="#ffd700"/>
<circle cx="602.42" cy="466.9" r="2.95" fill="#ffd700"/>
<circle cx="607.89" cy="466.9" r="2.95" fill="#ffd700"/>
<circle cx="613.35" cy="466.9" r="2.95" fill="#ffd700"/>
<circle cx="618.81" cy="466.9" r="2.95" fill="#ffd700"/>
<circle cx="624.27" cy="466.9" r="2.95" fill="#ffd700"/>
<circle cx="755.38" cy="466.9" r="2.95" fill="#ba55d3"/>
<circle cx="760.84" cy="466.9" r="2.95" fill="#ba55d3"/>
<circle cx="766.30" cy="466.9" r="2.95" fill="#ba55d3"/>
<circle cx="771.76" cy="466.9" r="2.95" fill="#ba55d3"/>
<circle cx="777.23" cy="466.9" r="2.95" fill="#ba55d3"/>
<circle cx="782.69" cy="466.9" r="2.95" fill="#ba55d3"/>
<circle cx="788.15" cy="466.9" r="2.95" fill="#ba55d3"/>
<circle cx="793.61" cy="466.9" r="2.95" fill="#ba55d3"/>
<circle cx="799.08" cy="466.9" r="2.95" fill="#ba55d3"/>
<circle cx="804.54" cy="466.9" r="2.95" fill="#ba55d3"/>
<circle cx="810.00" cy="466.9" r="2.95" fill="#ba55d3"/>
<circle cx="815.46" cy="466.9" r="2.95" fill="#ba55d3"/>
<circle cx="820.93" cy="466.9" r="2.95" fill="#ba55d3"/>
<circle cx="826.39" cy="466.9" r="2.95" fill="#ba55d3"/>
<circle cx="831.85" cy="466.9" r="2.95" fill="#ba55d3"/>
<circle cx="837.32" cy="466.9" r="2.95" fill="#ba55d3"/>
<circle cx="842.78" cy="466.9" r="2.95" fill="#ba55d3"/>
<circle cx="897.40" cy="466.9" r="2.95" fill="#ffd700"/>
<circle cx="902.87" cy="466.9" r="2.95" fill="#ffd700"/>
<circle cx="908.33" cy="466.9" r="2.95" fill="#ffd700"/>
<circle cx="913.79" cy="466.9" r="2.95" fill="#ffd700"/>
<circle cx="919.25" cy="466.9" r="2.95" fill="#ffd700"/>
<circle cx="924.72" cy="466.9" r="2.95" fill="#ffd700"/>
<circle cx="930.18" cy="466.9" r="2.95" fill="#ffd700"/>
<circle cx="935.64" cy="466.9" r="2.95" fill="#ffd700"/>
<circle cx="941.10" cy="466.9" r="2.95" fill="#ffd700"/>
<circle cx="946.57" cy="466.9" r="2.95" fill="#ffd700"/>
<circle cx="952.03" cy="466.9" r="2.95" fill="#ffd700"/>
<circle cx="957.49" cy="466.9" r="2.95" fill="#ffd700"/>
<circle cx="962.96" cy="466.9" r="2.95" fill="#ffd700"/>
</g>
<polygon points="988.7,146.25 992.2,142.1 1022.7,142.1 1022.7,150.4 992.2,150.4" fill="#44444b" stroke="#9a9a9a" stroke-width="0.8"/><text x="996.8" y="148.70" font-size="7" fill="#ffffff" stroke="#ffffff" stroke-width="0.12" textLength="23.4" lengthAdjust="spacingAndGlyphs">12675.75</text>
<polygon points="988.7,413.8 992.2,409.65000000000003 1022.7,409.65000000000003 1022.7,417.95 992.2,417.95" fill="#44444b" stroke="#9a9a9a" stroke-width="0.8"/><text x="996.8" y="416.25" font-size="7" fill="#ffffff" stroke="#ffffff" stroke-width="0.12" textLength="3.2" lengthAdjust="spacingAndGlyphs">3</text>
<polygon points="988.7,440.3 992.2,436.15000000000003 1022.7,436.15000000000003 1022.7,444.45 992.2,444.45" fill="#44444b" stroke="#9a9a9a" stroke-width="0.8"/><text x="996.8" y="442.75" font-size="7" fill="#ffffff" stroke="#ffffff" stroke-width="0.12" textLength="3.2" lengthAdjust="spacingAndGlyphs">2</text>
<polygon points="988.7,466.9 992.2,462.75 1022.7,462.75 1022.7,471.04999999999995 992.2,471.04999999999995" fill="#44444b" stroke="#9a9a9a" stroke-width="0.8"/><text x="996.8" y="469.35" font-size="7" fill="#ffffff" stroke="#ffffff" stroke-width="0.12" textLength="3.2" lengthAdjust="spacingAndGlyphs">1</text>
<path d="M974.4 11.3 H983.5 M980.3 7.9 L983.8 11.3 L980.3 14.7" fill="none" stroke="#e6e6e6" stroke-width="1.1" stroke-linecap="round" stroke-linejoin="round"/>
<g id="taxis" fill="#e4e4e4" stroke="#e4e4e4" stroke-width="0.18" font-size="7">
<rect x="16.98" y="502.6" width="1" height="2.3" fill="#c0c0c0" stroke="none"/>
<text x="7.28" y="514" textLength="22" lengthAdjust="spacingAndGlyphs">10:00:59</text>
<rect x="49.75" y="502.6" width="1" height="2.3" fill="#c0c0c0" stroke="none"/>
<text x="40.05" y="514" textLength="22" lengthAdjust="spacingAndGlyphs">10:01:02</text>
<rect x="82.53" y="502.6" width="1" height="2.3" fill="#c0c0c0" stroke="none"/>
<text x="72.83" y="514" textLength="22" lengthAdjust="spacingAndGlyphs">10:01:04</text>
<rect x="115.30" y="502.6" width="1" height="2.3" fill="#c0c0c0" stroke="none"/>
<text x="105.60" y="514" textLength="22" lengthAdjust="spacingAndGlyphs">10:01:07</text>
<rect x="148.08" y="502.6" width="1" height="2.3" fill="#c0c0c0" stroke="none"/>
<text x="138.38" y="514" textLength="22" lengthAdjust="spacingAndGlyphs">10:01:09</text>
<rect x="180.85" y="502.6" width="1" height="2.3" fill="#c0c0c0" stroke="none"/>
<text x="171.15" y="514" textLength="22" lengthAdjust="spacingAndGlyphs">10:01:14</text>
<rect x="213.63" y="502.6" width="1" height="2.3" fill="#c0c0c0" stroke="none"/>
<text x="203.93" y="514" textLength="22" lengthAdjust="spacingAndGlyphs">10:01:17</text>
<rect x="246.40" y="502.6" width="1" height="2.3" fill="#c0c0c0" stroke="none"/>
<text x="236.70" y="514" textLength="22" lengthAdjust="spacingAndGlyphs">10:01:21</text>
<rect x="279.18" y="502.6" width="1" height="2.3" fill="#c0c0c0" stroke="none"/>
<text x="269.48" y="514" textLength="22" lengthAdjust="spacingAndGlyphs">10:01:25</text>
<rect x="311.96" y="502.6" width="1" height="2.3" fill="#c0c0c0" stroke="none"/>
<text x="302.26" y="514" textLength="22" lengthAdjust="spacingAndGlyphs">10:01:31</text>
<rect x="344.73" y="502.6" width="1" height="2.3" fill="#c0c0c0" stroke="none"/>
<text x="335.03" y="514" textLength="22" lengthAdjust="spacingAndGlyphs">10:01:36</text>
<rect x="377.51" y="502.6" width="1" height="2.3" fill="#c0c0c0" stroke="none"/>
<text x="367.81" y="514" textLength="22" lengthAdjust="spacingAndGlyphs">10:01:41</text>
<rect x="410.28" y="502.6" width="1" height="2.3" fill="#c0c0c0" stroke="none"/>
<text x="400.58" y="514" textLength="22" lengthAdjust="spacingAndGlyphs">10:01:44</text>
<rect x="443.06" y="502.6" width="1" height="2.3" fill="#c0c0c0" stroke="none"/>
<text x="433.36" y="514" textLength="22" lengthAdjust="spacingAndGlyphs">10:01:47</text>
<rect x="475.83" y="502.6" width="1" height="2.3" fill="#c0c0c0" stroke="none"/>
<text x="466.13" y="514" textLength="22" lengthAdjust="spacingAndGlyphs">10:01:53</text>
<rect x="508.61" y="502.6" width="1" height="2.3" fill="#c0c0c0" stroke="none"/>
<text x="498.91" y="514" textLength="22" lengthAdjust="spacingAndGlyphs">10:01:57</text>
<rect x="541.38" y="502.6" width="1" height="2.3" fill="#c0c0c0" stroke="none"/>
<text x="531.68" y="514" textLength="22" lengthAdjust="spacingAndGlyphs">10:02:02</text>
<rect x="574.16" y="502.6" width="1" height="2.3" fill="#c0c0c0" stroke="none"/>
<text x="564.46" y="514" textLength="22" lengthAdjust="spacingAndGlyphs">10:02:07</text>
<rect x="606.94" y="502.6" width="1" height="2.3" fill="#c0c0c0" stroke="none"/>
<text x="597.24" y="514" textLength="22" lengthAdjust="spacingAndGlyphs">10:02:12</text>
<rect x="639.71" y="502.6" width="1" height="2.3" fill="#c0c0c0" stroke="none"/>
<text x="630.01" y="514" textLength="22" lengthAdjust="spacingAndGlyphs">10:02:15</text>
<rect x="672.49" y="502.6" width="1" height="2.3" fill="#c0c0c0" stroke="none"/>
<text x="662.79" y="514" textLength="22" lengthAdjust="spacingAndGlyphs">10:02:21</text>
<rect x="705.26" y="502.6" width="1" height="2.3" fill="#c0c0c0" stroke="none"/>
<text x="695.56" y="514" textLength="22" lengthAdjust="spacingAndGlyphs">10:02:26</text>
<rect x="738.04" y="502.6" width="1" height="2.3" fill="#c0c0c0" stroke="none"/>
<text x="728.34" y="514" textLength="22" lengthAdjust="spacingAndGlyphs">10:02:30</text>
<rect x="770.81" y="502.6" width="1" height="2.3" fill="#c0c0c0" stroke="none"/>
<text x="761.11" y="514" textLength="22" lengthAdjust="spacingAndGlyphs">10:02:35</text>
<rect x="803.59" y="502.6" width="1" height="2.3" fill="#c0c0c0" stroke="none"/>
<text x="793.89" y="514" textLength="22" lengthAdjust="spacingAndGlyphs">10:02:41</text>
<rect x="836.37" y="502.6" width="1" height="2.3" fill="#c0c0c0" stroke="none"/>
<text x="826.67" y="514" textLength="22" lengthAdjust="spacingAndGlyphs">10:02:44</text>
<rect x="869.14" y="502.6" width="1" height="2.3" fill="#c0c0c0" stroke="none"/>
<text x="859.44" y="514" textLength="22" lengthAdjust="spacingAndGlyphs">10:02:47</text>
<rect x="901.92" y="502.6" width="1" height="2.3" fill="#c0c0c0" stroke="none"/>
<text x="892.22" y="514" textLength="22" lengthAdjust="spacingAndGlyphs">10:02:50</text>
<rect x="934.69" y="502.6" width="1" height="2.3" fill="#c0c0c0" stroke="none"/>
<text x="924.99" y="514" textLength="22" lengthAdjust="spacingAndGlyphs">10:02:55</text>
<rect x="967.47" y="502.6" width="1" height="2.3" fill="#c0c0c0" stroke="none"/>
<text x="957.77" y="514" textLength="22" lengthAdjust="spacingAndGlyphs">10:03:00</text>
</g>
<text x="2.6" y="389.55" font-size="6.6" fill="#d6d6d6" textLength="153" lengthAdjust="spacingAndGlyphs">Multi-Osc OB/OS Overlap by ninZa.co (NQ 03-23 (5 Range))</text>
<text x="2.5" y="496.8" font-size="7" fill="#e4e4e4" textLength="63" lengthAdjust="spacingAndGlyphs">© 2023 NinjaTrader, LLC</text>
<text x="2.2" y="523.8" font-size="5.6" fill="#e4e4e4" textLength="21" lengthAdjust="spacingAndGlyphs">NQ 03-23</text>
<g id="logo">
<path d="M940.6 517.9 C936.6 517.6 934.6 520.2 935.2 522.6 C935.7 524.8 937.6 526 939.6 526" fill="none" stroke="#9a8c7e" stroke-width="1.5" stroke-linecap="round"/>
<path d="M938.3 519.6 L940.6 525.4" fill="none" stroke="#b9ada0" stroke-width="1.1" stroke-linecap="round"/>
<path d="M939.9 518.6 L941.7 525.3 C943.6 524.6 945 522.6 944.6 520.4" fill="none" stroke="#cf2229" stroke-width="1.5" stroke-linecap="round" stroke-linejoin="round"/>
<path d="M942.4 518.2 C943.6 518.6 944.3 519.2 944.6 520" fill="none" stroke="#9c4a4c" stroke-width="0.6" stroke-linecap="round"/>
<text x="947.9" y="524.9" font-size="6.6" fill="#83796e" stroke="#83796e" stroke-width="0.3" textLength="29" lengthAdjust="spacingAndGlyphs">NINJA</text>
<text x="977.1" y="524.9" font-size="6.6" fill="#b02026" stroke="#b02026" stroke-width="0.3" textLength="43.2" lengthAdjust="spacingAndGlyphs">TRADER</text>
<text x="1020.5" y="522.6" font-size="3.6" font-weight="bold" fill="#d0262c" stroke="#d0262c" stroke-width="0.4">®</text>
</g>
</svg>
</body></html>
